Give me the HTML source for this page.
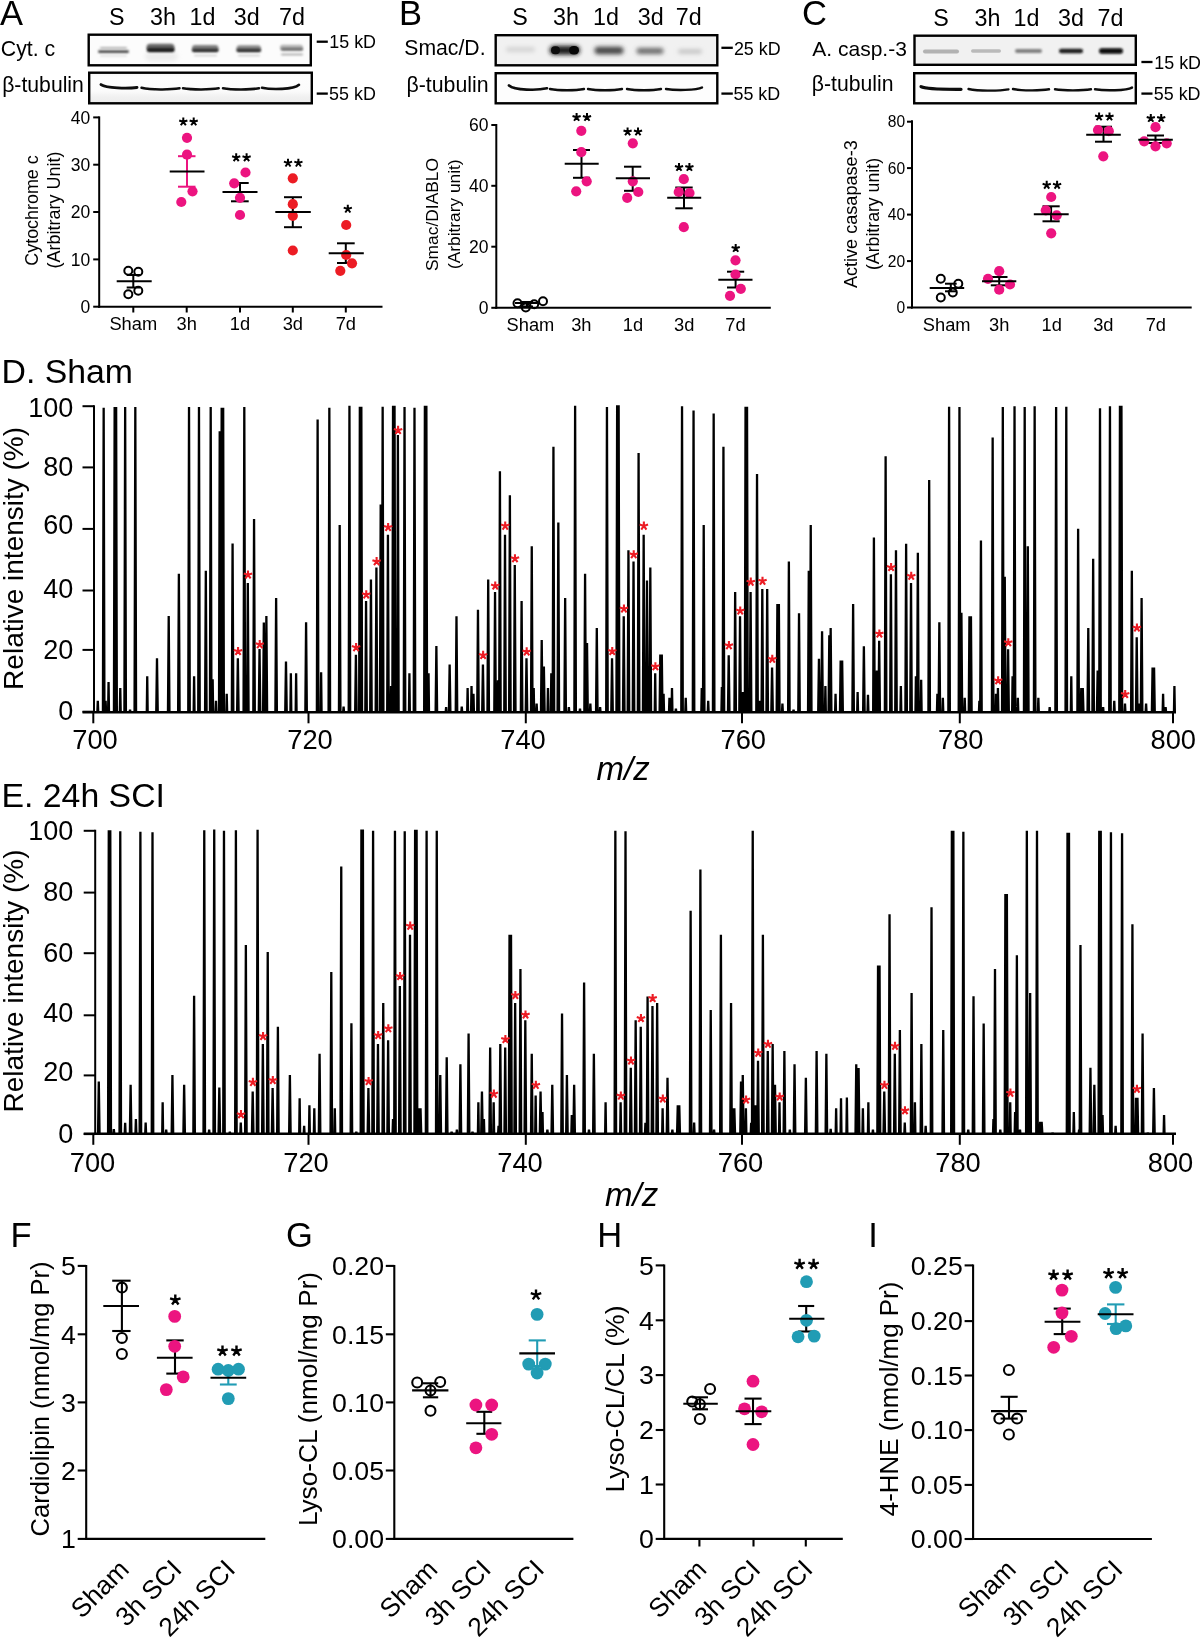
<!DOCTYPE html>
<html><head><meta charset="utf-8"><title>Figure</title><style>html,body{margin:0;padding:0;background:#fff;}svg{display:block;will-change:transform;}</style></head>
<body><svg width="1200" height="1638" viewBox="0 0 1200 1638" font-family='"Liberation Sans", sans-serif' fill="#000">
<rect x="0" y="0" width="1200" height="1638" fill="#fff"/>
<defs><filter id="bl3" filterUnits="userSpaceOnUse" x="0" y="0" width="1200" height="200"><feGaussianBlur stdDeviation="0.3"/></filter><filter id="bl5" filterUnits="userSpaceOnUse" x="0" y="0" width="1200" height="200"><feGaussianBlur stdDeviation="0.5"/></filter><filter id="bl8" filterUnits="userSpaceOnUse" x="0" y="0" width="1200" height="200"><feGaussianBlur stdDeviation="0.8"/></filter><filter id="bl10" filterUnits="userSpaceOnUse" x="0" y="0" width="1200" height="200"><feGaussianBlur stdDeviation="1.0"/></filter><filter id="bl12" filterUnits="userSpaceOnUse" x="0" y="0" width="1200" height="200"><feGaussianBlur stdDeviation="1.2"/></filter><filter id="bl15" filterUnits="userSpaceOnUse" x="0" y="0" width="1200" height="200"><feGaussianBlur stdDeviation="1.5"/></filter><filter id="bl20" filterUnits="userSpaceOnUse" x="0" y="0" width="1200" height="200"><feGaussianBlur stdDeviation="2.0"/></filter><filter id="bl25" filterUnits="userSpaceOnUse" x="0" y="0" width="1200" height="200"><feGaussianBlur stdDeviation="2.5"/></filter><filter id="bl30" filterUnits="userSpaceOnUse" x="0" y="0" width="1200" height="200"><feGaussianBlur stdDeviation="3.0"/></filter></defs>
<text x="0.00" y="24.80" font-size="34.5" text-anchor="start" >A</text>
<text x="398.90" y="24.80" font-size="34.5" text-anchor="start" >B</text>
<text x="802.00" y="24.80" font-size="34.5" text-anchor="start" >C</text>
<text x="116.80" y="25.30" font-size="23.3" text-anchor="middle" >S</text>
<text x="163.00" y="25.30" font-size="23.3" text-anchor="middle" >3h</text>
<text x="202.40" y="25.30" font-size="23.3" text-anchor="middle" >1d</text>
<text x="246.80" y="25.30" font-size="23.3" text-anchor="middle" >3d</text>
<text x="292.00" y="25.30" font-size="23.3" text-anchor="middle" >7d</text>
<rect x="88.70" y="34.70" width="222.10" height="30.60" fill="#fcfcfc"/>
<defs><linearGradient id="g1" x1="0" y1="0" x2="0" y2="1"><stop offset="0" stop-color="#f6f6f6"/><stop offset="0.15" stop-color="#fdfdfd"/><stop offset="0.6" stop-color="#fbfbfb"/><stop offset="0.8" stop-color="#f0f0f0"/><stop offset="1" stop-color="#ececec"/></linearGradient></defs>
<rect x="89.20" y="72.70" width="222.60" height="30.60" fill="url(#g1)"/>
<text x="0.80" y="55.50" font-size="21.3" text-anchor="start" >Cyt. c</text>
<text x="2.20" y="92.00" font-size="21.2" text-anchor="start" >β-tubulin</text>
<line x1="316.70" y1="41.70" x2="327.80" y2="41.70" stroke="#000" stroke-width="2.3" />
<text x="329.30" y="47.80" font-size="17.9" text-anchor="start" >15 kD</text>
<line x1="316.70" y1="93.60" x2="327.80" y2="93.60" stroke="#000" stroke-width="2.3" />
<text x="329.10" y="100.00" font-size="17.9" text-anchor="start" >55 kD</text>
<rect x="145.00" y="51.50" width="33.00" height="10.00" rx="5.00" fill="rgb(237,237,237)" filter="url(#bl20)"/>
<rect x="98.00" y="50.30" width="31.00" height="2.60" rx="1.30" fill="rgb(71,71,71)" filter="url(#bl8)"/>
<rect x="100.00" y="47.10" width="27.00" height="1.80" rx="0.90" fill="rgb(178,178,178)" filter="url(#bl8)"/>
<rect x="100.00" y="55.05" width="27.00" height="1.50" rx="0.75" fill="rgb(217,217,217)" filter="url(#bl8)"/>
<rect x="146.50" y="43.85" width="28.00" height="7.50" rx="3.75" fill="rgb(102,102,102)" filter="url(#bl12)"/>
<rect x="147.00" y="48.10" width="27.50" height="3.80" rx="1.90" fill="rgb(31,31,31)" filter="url(#bl8)"/>
<rect x="192.00" y="44.95" width="26.50" height="6.50" rx="3.25" fill="rgb(128,128,128)" filter="url(#bl10)"/>
<rect x="192.00" y="48.70" width="26.50" height="3.20" rx="1.60" fill="rgb(46,46,46)" filter="url(#bl8)"/>
<rect x="194.00" y="54.75" width="23.00" height="1.50" rx="0.75" fill="rgb(204,204,204)" filter="url(#bl8)"/>
<rect x="236.50" y="45.25" width="24.50" height="6.50" rx="3.25" fill="rgb(140,140,140)" filter="url(#bl10)"/>
<rect x="236.50" y="48.70" width="24.50" height="3.20" rx="1.60" fill="rgb(51,51,51)" filter="url(#bl8)"/>
<rect x="238.00" y="54.75" width="22.00" height="1.50" rx="0.75" fill="rgb(199,199,199)" filter="url(#bl8)"/>
<rect x="280.00" y="44.85" width="23.00" height="5.50" rx="2.75" fill="rgb(178,178,178)" filter="url(#bl10)"/>
<rect x="281.00" y="48.10" width="22.00" height="2.40" rx="1.20" fill="rgb(102,102,102)" filter="url(#bl8)"/>
<rect x="281.00" y="53.70" width="22.00" height="1.60" rx="0.80" fill="rgb(153,153,153)" filter="url(#bl8)"/>
<path d="M101.0,84.6 C106.4,88.52 128.0,88.52 137.0,87.5" stroke="rgb(13,13,13)" stroke-width="2.9" stroke-linecap="round" fill="none" filter="url(#bl5)"/>
<path d="M141.5,87.8 C151.0,89.85 170.0,89.85 179.5,88.3" stroke="rgb(13,13,13)" stroke-width="2.5" stroke-linecap="round" fill="none" filter="url(#bl5)"/>
<path d="M183.0,88.2 C191.9,89.78 209.8,89.78 218.7,88.3" stroke="rgb(13,13,13)" stroke-width="2.5" stroke-linecap="round" fill="none" filter="url(#bl5)"/>
<path d="M223.0,88.2 C232.0,89.80 250.0,89.80 259.0,88.2" stroke="rgb(13,13,13)" stroke-width="2.5" stroke-linecap="round" fill="none" filter="url(#bl5)"/>
<path d="M262.0,87.8 C271.2,89.77 293.4,89.77 299.0,84.8" stroke="rgb(13,13,13)" stroke-width="2.6" stroke-linecap="round" fill="none" filter="url(#bl5)"/>
<text x="520.00" y="25.30" font-size="23.3" text-anchor="middle" >S</text>
<text x="566.00" y="25.30" font-size="23.3" text-anchor="middle" >3h</text>
<text x="606.00" y="25.30" font-size="23.3" text-anchor="middle" >1d</text>
<text x="650.75" y="25.30" font-size="23.3" text-anchor="middle" >3d</text>
<text x="688.75" y="25.30" font-size="23.3" text-anchor="middle" >7d</text>
<rect x="495.70" y="35.20" width="221.60" height="30.10" fill="#f1f1f1"/>
<rect x="495.70" y="73.20" width="221.60" height="30.10" fill="#fdfdfd"/>
<text x="404.30" y="55.00" font-size="21.2" text-anchor="start" >Smac/D.</text>
<text x="406.50" y="91.50" font-size="21.3" text-anchor="start" >β-tubulin</text>
<line x1="721.40" y1="47.80" x2="732.80" y2="47.80" stroke="#000" stroke-width="2.3" />
<text x="733.90" y="54.50" font-size="17.9" text-anchor="start" >25 kD</text>
<line x1="721.40" y1="93.60" x2="732.80" y2="93.60" stroke="#000" stroke-width="2.3" />
<text x="733.50" y="100.00" font-size="17.9" text-anchor="start" >55 kD</text>
<rect x="506.00" y="47.00" width="29.00" height="5.00" rx="2.50" fill="rgb(212,212,212)" filter="url(#bl20)"/>
<rect x="549.50" y="45.80" width="30.50" height="9.00" rx="4.50" fill="rgb(31,31,31)" filter="url(#bl20)"/>
<rect x="551.00" y="46.30" width="9.00" height="8.00" rx="4.00" fill="rgb(13,13,13)" filter="url(#bl18)"/>
<rect x="569.00" y="46.05" width="10.00" height="8.50" rx="4.25" fill="rgb(8,8,8)" filter="url(#bl18)"/>
<rect x="594.50" y="46.75" width="29.00" height="7.50" rx="3.75" fill="rgb(71,71,71)" filter="url(#bl20)"/>
<rect x="636.50" y="48.00" width="27.00" height="6.00" rx="3.00" fill="rgb(107,107,107)" filter="url(#bl20)"/>
<rect x="678.00" y="49.50" width="24.00" height="4.00" rx="2.00" fill="rgb(191,191,191)" filter="url(#bl20)"/>
<path d="M509.0,85.5 C514.7,90.50 537.5,90.50 547.0,88.3" stroke="rgb(13,13,13)" stroke-width="2.7" stroke-linecap="round" fill="none" filter="url(#bl5)"/>
<path d="M550.0,89.0 C558.5,90.60 575.5,90.60 584.0,89.0" stroke="rgb(13,13,13)" stroke-width="2.4" stroke-linecap="round" fill="none" filter="url(#bl5)"/>
<path d="M588.0,89.0 C596.5,90.60 613.5,90.60 622.0,89.0" stroke="rgb(13,13,13)" stroke-width="2.4" stroke-linecap="round" fill="none" filter="url(#bl5)"/>
<path d="M627.0,89.0 C635.5,90.60 652.5,90.60 661.0,89.0" stroke="rgb(13,13,13)" stroke-width="2.4" stroke-linecap="round" fill="none" filter="url(#bl5)"/>
<path d="M666.0,89.0 C675.0,90.45 696.6,90.45 702.0,87.5" stroke="rgb(13,13,13)" stroke-width="2.4" stroke-linecap="round" fill="none" filter="url(#bl5)"/>
<text x="941.00" y="25.60" font-size="23.3" text-anchor="middle" >S</text>
<text x="987.40" y="25.60" font-size="23.3" text-anchor="middle" >3h</text>
<text x="1026.40" y="25.60" font-size="23.3" text-anchor="middle" >1d</text>
<text x="1071.00" y="25.60" font-size="23.3" text-anchor="middle" >3d</text>
<text x="1110.40" y="25.60" font-size="23.3" text-anchor="middle" >7d</text>
<rect x="914.50" y="35.70" width="221.30" height="29.10" fill="#f1f1f1"/>
<rect x="914.20" y="73.20" width="221.60" height="30.10" fill="#fdfdfd"/>
<text x="812.30" y="55.80" font-size="21" text-anchor="start" >A. casp.-3</text>
<text x="811.80" y="91.00" font-size="21.2" text-anchor="start" >β-tubulin</text>
<line x1="1141.40" y1="62.00" x2="1152.50" y2="62.00" stroke="#000" stroke-width="2.3" />
<text x="1154.30" y="68.50" font-size="17.9" text-anchor="start" >15 kD</text>
<line x1="1141.40" y1="93.60" x2="1152.50" y2="93.60" stroke="#000" stroke-width="2.3" />
<text x="1153.80" y="99.70" font-size="17.9" text-anchor="start" >55 kD</text>
<rect x="923.00" y="49.50" width="36.00" height="4.00" rx="2.00" fill="rgb(178,178,178)" filter="url(#bl13)"/>
<rect x="971.00" y="49.25" width="30.00" height="3.50" rx="1.75" fill="rgb(186,186,186)" filter="url(#bl13)"/>
<rect x="1015.00" y="49.00" width="27.00" height="4.00" rx="2.00" fill="rgb(128,128,128)" filter="url(#bl10)"/>
<rect x="1059.00" y="48.75" width="24.00" height="4.50" rx="2.25" fill="rgb(31,31,31)" filter="url(#bl8)"/>
<rect x="1099.00" y="48.25" width="24.00" height="5.50" rx="2.75" fill="rgb(8,8,8)" filter="url(#bl8)"/>
<path d="M921.0,86.6 C925.8,89.35 951.0,89.35 961.0,89.3" stroke="rgb(13,13,13)" stroke-width="3.2" stroke-linecap="round" fill="none" filter="url(#bl5)"/>
<path d="M968.5,89.0 C978.5,91.08 998.5,91.08 1008.5,89.3" stroke="rgb(13,13,13)" stroke-width="2.3" stroke-linecap="round" fill="none" filter="url(#bl5)"/>
<path d="M1013.0,89.0 C1022.0,90.82 1040.0,90.82 1049.0,89.3" stroke="rgb(13,13,13)" stroke-width="2.4" stroke-linecap="round" fill="none" filter="url(#bl5)"/>
<path d="M1055.0,89.3 C1064.0,90.77 1082.0,90.77 1091.0,89.3" stroke="rgb(13,13,13)" stroke-width="2.4" stroke-linecap="round" fill="none" filter="url(#bl5)"/>
<path d="M1095.0,89.3 C1104.2,90.78 1126.5,90.78 1132.0,87.6" stroke="rgb(13,13,13)" stroke-width="2.4" stroke-linecap="round" fill="none" filter="url(#bl5)"/>
<rect x="88.70" y="34.70" width="222.10" height="30.60" fill="none" stroke="#000" stroke-width="2.4"/>
<rect x="89.20" y="72.70" width="222.60" height="30.60" fill="none" stroke="#000" stroke-width="2.4"/>
<rect x="495.70" y="35.20" width="221.60" height="30.10" fill="none" stroke="#000" stroke-width="2.4"/>
<rect x="495.70" y="73.20" width="221.60" height="30.10" fill="none" stroke="#000" stroke-width="2.4"/>
<rect x="914.50" y="35.70" width="221.30" height="29.10" fill="none" stroke="#000" stroke-width="2.4"/>
<rect x="914.20" y="73.20" width="221.60" height="30.10" fill="none" stroke="#000" stroke-width="2.4"/>
<line x1="99.20" y1="116.40" x2="99.20" y2="307.70" stroke="#000" stroke-width="2" />
<line x1="93.20" y1="117.40" x2="99.20" y2="117.40" stroke="#000" stroke-width="2" />
<text x="90.30" y="123.53" font-size="17.5" text-anchor="end" >40</text>
<line x1="93.20" y1="164.70" x2="99.20" y2="164.70" stroke="#000" stroke-width="2" />
<text x="90.30" y="170.82" font-size="17.5" text-anchor="end" >30</text>
<line x1="93.20" y1="212.00" x2="99.20" y2="212.00" stroke="#000" stroke-width="2" />
<text x="90.30" y="218.12" font-size="17.5" text-anchor="end" >20</text>
<line x1="93.20" y1="259.40" x2="99.20" y2="259.40" stroke="#000" stroke-width="2" />
<text x="90.30" y="265.52" font-size="17.5" text-anchor="end" >10</text>
<line x1="93.20" y1="306.70" x2="99.20" y2="306.70" stroke="#000" stroke-width="2" />
<text x="90.30" y="312.82" font-size="17.5" text-anchor="end" >0</text>
<line x1="98.20" y1="306.70" x2="382.50" y2="306.70" stroke="#000" stroke-width="2" />
<line x1="133.30" y1="306.70" x2="133.30" y2="312.50" stroke="#000" stroke-width="2" />
<line x1="186.70" y1="306.70" x2="186.70" y2="312.50" stroke="#000" stroke-width="2" />
<line x1="240.00" y1="306.70" x2="240.00" y2="312.50" stroke="#000" stroke-width="2" />
<line x1="292.80" y1="306.70" x2="292.80" y2="312.50" stroke="#000" stroke-width="2" />
<line x1="345.80" y1="306.70" x2="345.80" y2="312.50" stroke="#000" stroke-width="2" />
<text x="133.30" y="330.00" font-size="18.3" text-anchor="middle" >Sham</text>
<text x="186.70" y="330.00" font-size="18.3" text-anchor="middle" >3h</text>
<text x="240.00" y="330.00" font-size="18.3" text-anchor="middle" >1d</text>
<text x="292.80" y="330.00" font-size="18.3" text-anchor="middle" >3d</text>
<text x="345.80" y="330.00" font-size="18.3" text-anchor="middle" >7d</text>
<text transform="translate(31.60,210.50) rotate(-90)" x="0" y="6.26" font-size="17.9" text-anchor="middle">Cytochrome c</text>
<text transform="translate(54.10,210.00) rotate(-90)" x="0" y="6.30" font-size="18" text-anchor="middle">(Arbitrary Unit)</text>
<line x1="133.30" y1="275.00" x2="133.30" y2="287.50" stroke="#000" stroke-width="2.0" />
<line x1="126.70" y1="275.00" x2="140.00" y2="275.00" stroke="#000" stroke-width="2.0" />
<line x1="126.70" y1="287.50" x2="140.00" y2="287.50" stroke="#000" stroke-width="2.0" />
<circle cx="128.30" cy="270.80" r="4.00" fill="none" stroke="#000" stroke-width="2.0"/>
<circle cx="138.30" cy="271.70" r="4.00" fill="none" stroke="#000" stroke-width="2.0"/>
<circle cx="128.30" cy="294.20" r="4.00" fill="none" stroke="#000" stroke-width="2.0"/>
<circle cx="138.30" cy="290.80" r="4.00" fill="none" stroke="#000" stroke-width="2.0"/>
<line x1="116.70" y1="281.30" x2="151.70" y2="281.30" stroke="#000" stroke-width="2.0" />
<line x1="187.00" y1="156.20" x2="187.00" y2="186.70" stroke="#EC1480" stroke-width="2.0" />
<line x1="178.00" y1="156.20" x2="195.50" y2="156.20" stroke="#EC1480" stroke-width="2.0" />
<line x1="178.00" y1="186.70" x2="195.50" y2="186.70" stroke="#EC1480" stroke-width="2.0" />
<circle cx="187.00" cy="137.80" r="5.10" fill="#EC1480"/>
<circle cx="187.00" cy="154.70" r="5.10" fill="#EC1480"/>
<circle cx="192.50" cy="191.30" r="5.10" fill="#EC1480"/>
<circle cx="181.30" cy="202.00" r="5.10" fill="#EC1480"/>
<line x1="169.70" y1="171.50" x2="204.50" y2="171.50" stroke="#000" stroke-width="2.0" />
<path d="M183.30,121.80L183.30,117.50M183.30,121.80L187.39,120.47M183.30,121.80L185.83,125.28M183.30,121.80L180.77,125.28M183.30,121.80L179.21,120.47M193.70,121.80L193.70,117.50M193.70,121.80L197.79,120.47M193.70,121.80L196.23,125.28M193.70,121.80L191.17,125.28M193.70,121.80L189.61,120.47" stroke="#000" stroke-width="2.0" fill="none"/>
<line x1="240.00" y1="183.00" x2="240.00" y2="201.30" stroke="#000" stroke-width="2.0" />
<line x1="231.00" y1="183.00" x2="248.70" y2="183.00" stroke="#000" stroke-width="2.0" />
<line x1="231.00" y1="201.30" x2="248.70" y2="201.30" stroke="#000" stroke-width="2.0" />
<circle cx="245.50" cy="172.50" r="5.10" fill="#EC1480"/>
<circle cx="234.20" cy="183.30" r="5.10" fill="#EC1480"/>
<circle cx="240.00" cy="197.80" r="5.10" fill="#EC1480"/>
<circle cx="240.00" cy="215.00" r="5.10" fill="#EC1480"/>
<line x1="222.50" y1="192.00" x2="257.50" y2="192.00" stroke="#000" stroke-width="2.0" />
<path d="M236.20,157.60L236.20,153.30M236.20,157.60L240.29,156.27M236.20,157.60L238.73,161.08M236.20,157.60L233.67,161.08M236.20,157.60L232.11,156.27M246.60,157.60L246.60,153.30M246.60,157.60L250.69,156.27M246.60,157.60L249.13,161.08M246.60,157.60L244.07,161.08M246.60,157.60L242.51,156.27" stroke="#000" stroke-width="2.0" fill="none"/>
<line x1="292.80" y1="197.20" x2="292.80" y2="227.20" stroke="#000" stroke-width="2.0" />
<line x1="284.00" y1="197.20" x2="302.00" y2="197.20" stroke="#000" stroke-width="2.0" />
<line x1="284.00" y1="227.20" x2="302.00" y2="227.20" stroke="#000" stroke-width="2.0" />
<circle cx="292.80" cy="178.30" r="5.10" fill="#EC1C24"/>
<circle cx="292.80" cy="204.20" r="5.10" fill="#EC1C24"/>
<circle cx="292.80" cy="215.80" r="5.10" fill="#EC1C24"/>
<circle cx="292.80" cy="250.50" r="5.10" fill="#EC1C24"/>
<line x1="275.30" y1="212.00" x2="310.80" y2="212.00" stroke="#000" stroke-width="2.0" />
<path d="M288.00,163.00L288.00,158.70M288.00,163.00L292.09,161.67M288.00,163.00L290.53,166.48M288.00,163.00L285.47,166.48M288.00,163.00L283.91,161.67M298.40,163.00L298.40,158.70M298.40,163.00L302.49,161.67M298.40,163.00L300.93,166.48M298.40,163.00L295.87,166.48M298.40,163.00L294.31,161.67" stroke="#000" stroke-width="2.0" fill="none"/>
<line x1="345.80" y1="243.30" x2="345.80" y2="263.00" stroke="#000" stroke-width="2.0" />
<line x1="337.00" y1="243.30" x2="354.70" y2="243.30" stroke="#000" stroke-width="2.0" />
<line x1="337.00" y1="263.00" x2="354.70" y2="263.00" stroke="#000" stroke-width="2.0" />
<circle cx="346.20" cy="225.00" r="5.10" fill="#EC1C24"/>
<circle cx="346.20" cy="255.00" r="5.10" fill="#EC1C24"/>
<circle cx="352.00" cy="263.30" r="5.10" fill="#EC1C24"/>
<circle cx="340.30" cy="270.80" r="5.10" fill="#EC1C24"/>
<line x1="328.70" y1="253.30" x2="363.80" y2="253.30" stroke="#000" stroke-width="2.0" />
<path d="M347.80,209.00L347.80,204.70M347.80,209.00L351.89,207.67M347.80,209.00L350.33,212.48M347.80,209.00L345.27,212.48M347.80,209.00L343.71,207.67" stroke="#000" stroke-width="2.0" fill="none"/>
<line x1="496.30" y1="124.00" x2="496.30" y2="308.80" stroke="#000" stroke-width="2" />
<line x1="491.30" y1="125.00" x2="496.30" y2="125.00" stroke="#000" stroke-width="2" />
<text x="488.50" y="131.12" font-size="17.5" text-anchor="end" >60</text>
<line x1="491.30" y1="185.80" x2="496.30" y2="185.80" stroke="#000" stroke-width="2" />
<text x="488.50" y="191.93" font-size="17.5" text-anchor="end" >40</text>
<line x1="491.30" y1="246.70" x2="496.30" y2="246.70" stroke="#000" stroke-width="2" />
<text x="488.50" y="252.82" font-size="17.5" text-anchor="end" >20</text>
<line x1="491.30" y1="307.80" x2="496.30" y2="307.80" stroke="#000" stroke-width="2" />
<text x="488.50" y="313.93" font-size="17.5" text-anchor="end" >0</text>
<line x1="495.30" y1="307.80" x2="770.80" y2="307.80" stroke="#000" stroke-width="2" />
<text x="530.40" y="330.50" font-size="18.3" text-anchor="middle" >Sham</text>
<text x="581.30" y="330.50" font-size="18.3" text-anchor="middle" >3h</text>
<text x="633.00" y="330.50" font-size="18.3" text-anchor="middle" >1d</text>
<text x="684.20" y="330.50" font-size="18.3" text-anchor="middle" >3d</text>
<text x="735.50" y="330.50" font-size="18.3" text-anchor="middle" >7d</text>
<text transform="translate(431.70,214.50) rotate(-90)" x="0" y="6.09" font-size="17.4" text-anchor="middle">Smac/DIABLO</text>
<text transform="translate(454.00,214.20) rotate(-90)" x="0" y="6.05" font-size="17.3" text-anchor="middle">(Arbitrary unit)</text>
<line x1="527.00" y1="302.00" x2="527.00" y2="306.50" stroke="#000" stroke-width="2.0" />
<line x1="522.00" y1="302.00" x2="533.00" y2="302.00" stroke="#000" stroke-width="2.0" />
<line x1="522.00" y1="306.50" x2="533.00" y2="306.50" stroke="#000" stroke-width="2.0" />
<circle cx="517.50" cy="303.30" r="4.00" fill="none" stroke="#000" stroke-width="2.0"/>
<circle cx="525.80" cy="307.50" r="4.00" fill="none" stroke="#000" stroke-width="2.0"/>
<circle cx="534.20" cy="304.20" r="4.00" fill="none" stroke="#000" stroke-width="2.0"/>
<circle cx="543.00" cy="301.30" r="4.00" fill="none" stroke="#000" stroke-width="2.0"/>
<line x1="515.00" y1="303.00" x2="537.50" y2="303.00" stroke="#000" stroke-width="2.0" />
<line x1="581.50" y1="150.00" x2="581.50" y2="177.80" stroke="#000" stroke-width="2.0" />
<line x1="573.00" y1="150.00" x2="590.00" y2="150.00" stroke="#000" stroke-width="2.0" />
<line x1="573.00" y1="177.80" x2="590.00" y2="177.80" stroke="#000" stroke-width="2.0" />
<circle cx="581.30" cy="130.80" r="5.10" fill="#EC1480"/>
<circle cx="581.30" cy="152.20" r="5.10" fill="#EC1480"/>
<circle cx="586.70" cy="181.30" r="5.10" fill="#EC1480"/>
<circle cx="576.20" cy="191.30" r="5.10" fill="#EC1480"/>
<line x1="564.70" y1="163.70" x2="598.70" y2="163.70" stroke="#000" stroke-width="2.0" />
<path d="M576.60,117.30L576.60,113.00M576.60,117.30L580.69,115.97M576.60,117.30L579.13,120.78M576.60,117.30L574.07,120.78M576.60,117.30L572.51,115.97M587.00,117.30L587.00,113.00M587.00,117.30L591.09,115.97M587.00,117.30L589.53,120.78M587.00,117.30L584.47,120.78M587.00,117.30L582.91,115.97" stroke="#000" stroke-width="2.0" fill="none"/>
<line x1="632.70" y1="166.70" x2="632.70" y2="190.80" stroke="#000" stroke-width="2.0" />
<line x1="624.00" y1="166.70" x2="641.30" y2="166.70" stroke="#000" stroke-width="2.0" />
<line x1="624.00" y1="190.80" x2="641.30" y2="190.80" stroke="#000" stroke-width="2.0" />
<circle cx="632.80" cy="143.30" r="5.10" fill="#EC1480"/>
<circle cx="632.80" cy="181.30" r="5.10" fill="#EC1480"/>
<circle cx="638.30" cy="192.00" r="5.10" fill="#EC1480"/>
<circle cx="627.20" cy="197.80" r="5.10" fill="#EC1480"/>
<line x1="615.80" y1="178.30" x2="650.00" y2="178.30" stroke="#000" stroke-width="2.0" />
<path d="M627.60,131.80L627.60,127.50M627.60,131.80L631.69,130.47M627.60,131.80L630.13,135.28M627.60,131.80L625.07,135.28M627.60,131.80L623.51,130.47M638.00,131.80L638.00,127.50M638.00,131.80L642.09,130.47M638.00,131.80L640.53,135.28M638.00,131.80L635.47,135.28M638.00,131.80L633.91,130.47" stroke="#000" stroke-width="2.0" fill="none"/>
<line x1="684.00" y1="187.50" x2="684.00" y2="208.30" stroke="#000" stroke-width="2.0" />
<line x1="675.30" y1="187.50" x2="692.70" y2="187.50" stroke="#000" stroke-width="2.0" />
<line x1="675.30" y1="208.30" x2="692.70" y2="208.30" stroke="#000" stroke-width="2.0" />
<circle cx="683.80" cy="179.20" r="5.10" fill="#EC1480"/>
<circle cx="678.70" cy="192.00" r="5.10" fill="#EC1480"/>
<circle cx="689.50" cy="193.00" r="5.10" fill="#EC1480"/>
<circle cx="683.80" cy="227.20" r="5.10" fill="#EC1480"/>
<line x1="667.20" y1="197.80" x2="701.20" y2="197.80" stroke="#000" stroke-width="2.0" />
<path d="M679.00,167.30L679.00,163.00M679.00,167.30L683.09,165.97M679.00,167.30L681.53,170.78M679.00,167.30L676.47,170.78M679.00,167.30L674.91,165.97M689.40,167.30L689.40,163.00M689.40,167.30L693.49,165.97M689.40,167.30L691.93,170.78M689.40,167.30L686.87,170.78M689.40,167.30L685.31,165.97" stroke="#000" stroke-width="2.0" fill="none"/>
<line x1="735.60" y1="271.70" x2="735.60" y2="287.50" stroke="#000" stroke-width="2.0" />
<line x1="727.00" y1="271.70" x2="744.20" y2="271.70" stroke="#000" stroke-width="2.0" />
<line x1="727.00" y1="287.50" x2="744.20" y2="287.50" stroke="#000" stroke-width="2.0" />
<circle cx="735.50" cy="260.30" r="5.10" fill="#EC1480"/>
<circle cx="735.50" cy="274.50" r="5.10" fill="#EC1480"/>
<circle cx="740.80" cy="288.80" r="5.10" fill="#EC1480"/>
<circle cx="730.00" cy="295.80" r="5.10" fill="#EC1480"/>
<line x1="718.30" y1="279.70" x2="752.50" y2="279.70" stroke="#000" stroke-width="2.0" />
<path d="M735.70,248.30L735.70,244.00M735.70,248.30L739.79,246.97M735.70,248.30L738.23,251.78M735.70,248.30L733.17,251.78M735.70,248.30L731.61,246.97" stroke="#000" stroke-width="2.0" fill="none"/>
<line x1="912.00" y1="120.30" x2="912.00" y2="308.50" stroke="#000" stroke-width="2" />
<line x1="907.00" y1="121.70" x2="912.00" y2="121.70" stroke="#000" stroke-width="2" />
<text x="905.20" y="127.16" font-size="15.6" text-anchor="end" >80</text>
<line x1="907.00" y1="168.10" x2="912.00" y2="168.10" stroke="#000" stroke-width="2" />
<text x="905.20" y="173.56" font-size="15.6" text-anchor="end" >60</text>
<line x1="907.00" y1="214.60" x2="912.00" y2="214.60" stroke="#000" stroke-width="2" />
<text x="905.20" y="220.06" font-size="15.6" text-anchor="end" >40</text>
<line x1="907.00" y1="261.10" x2="912.00" y2="261.10" stroke="#000" stroke-width="2" />
<text x="905.20" y="266.56" font-size="15.6" text-anchor="end" >20</text>
<line x1="907.00" y1="307.50" x2="912.00" y2="307.50" stroke="#000" stroke-width="2" />
<text x="905.20" y="312.96" font-size="15.6" text-anchor="end" >0</text>
<line x1="911.00" y1="307.50" x2="1191.70" y2="307.50" stroke="#000" stroke-width="2" />
<text x="946.70" y="330.50" font-size="18.3" text-anchor="middle" >Sham</text>
<text x="999.20" y="330.50" font-size="18.3" text-anchor="middle" >3h</text>
<text x="1051.70" y="330.50" font-size="18.3" text-anchor="middle" >1d</text>
<text x="1103.30" y="330.50" font-size="18.3" text-anchor="middle" >3d</text>
<text x="1155.80" y="330.50" font-size="18.3" text-anchor="middle" >7d</text>
<text transform="translate(850.80,214.20) rotate(-90)" x="0" y="6.33" font-size="18.1" text-anchor="middle">Active casapase-3</text>
<text transform="translate(872.60,214.00) rotate(-90)" x="0" y="6.19" font-size="17.7" text-anchor="middle">(Arbitrary unit)</text>
<line x1="950.80" y1="283.70" x2="950.80" y2="291.30" stroke="#000" stroke-width="2.0" />
<line x1="945.00" y1="283.70" x2="956.70" y2="283.70" stroke="#000" stroke-width="2.0" />
<line x1="945.00" y1="291.30" x2="956.70" y2="291.30" stroke="#000" stroke-width="2.0" />
<circle cx="940.80" cy="278.80" r="4.00" fill="none" stroke="#000" stroke-width="2.0"/>
<circle cx="958.30" cy="283.70" r="4.00" fill="none" stroke="#000" stroke-width="2.0"/>
<circle cx="952.80" cy="292.50" r="4.00" fill="none" stroke="#000" stroke-width="2.0"/>
<circle cx="940.80" cy="297.50" r="4.00" fill="none" stroke="#000" stroke-width="2.0"/>
<line x1="929.70" y1="288.00" x2="964.20" y2="288.00" stroke="#000" stroke-width="2.0" />
<line x1="999.20" y1="277.00" x2="999.20" y2="285.30" stroke="#000" stroke-width="2.0" />
<line x1="990.80" y1="277.00" x2="1007.50" y2="277.00" stroke="#000" stroke-width="2.0" />
<line x1="990.80" y1="285.30" x2="1007.50" y2="285.30" stroke="#000" stroke-width="2.0" />
<circle cx="999.20" cy="271.20" r="5.10" fill="#EC1480"/>
<circle cx="988.00" cy="278.80" r="5.10" fill="#EC1480"/>
<circle cx="1010.00" cy="284.50" r="5.10" fill="#EC1480"/>
<circle cx="999.20" cy="289.70" r="5.10" fill="#EC1480"/>
<line x1="982.00" y1="281.20" x2="1016.30" y2="281.20" stroke="#000" stroke-width="2.0" />
<line x1="1051.10" y1="206.30" x2="1051.10" y2="221.30" stroke="#000" stroke-width="2.0" />
<line x1="1042.50" y1="206.30" x2="1059.70" y2="206.30" stroke="#000" stroke-width="2.0" />
<line x1="1042.50" y1="221.30" x2="1059.70" y2="221.30" stroke="#000" stroke-width="2.0" />
<circle cx="1051.20" cy="197.00" r="5.10" fill="#EC1480"/>
<circle cx="1045.80" cy="210.30" r="5.10" fill="#EC1480"/>
<circle cx="1056.70" cy="215.30" r="5.10" fill="#EC1480"/>
<circle cx="1051.20" cy="233.30" r="5.10" fill="#EC1480"/>
<line x1="1033.80" y1="214.20" x2="1068.70" y2="214.20" stroke="#000" stroke-width="2.0" />
<path d="M1046.70,185.10L1046.70,180.80M1046.70,185.10L1050.79,183.77M1046.70,185.10L1049.23,188.58M1046.70,185.10L1044.17,188.58M1046.70,185.10L1042.61,183.77M1057.10,185.10L1057.10,180.80M1057.10,185.10L1061.19,183.77M1057.10,185.10L1059.63,188.58M1057.10,185.10L1054.57,188.58M1057.10,185.10L1053.01,183.77" stroke="#000" stroke-width="2.0" fill="none"/>
<line x1="1103.50" y1="126.70" x2="1103.50" y2="141.70" stroke="#000" stroke-width="2.0" />
<line x1="1095.00" y1="126.70" x2="1112.00" y2="126.70" stroke="#000" stroke-width="2.0" />
<line x1="1095.00" y1="141.70" x2="1112.00" y2="141.70" stroke="#000" stroke-width="2.0" />
<circle cx="1098.00" cy="130.00" r="5.10" fill="#EC1480"/>
<circle cx="1108.80" cy="131.20" r="5.10" fill="#EC1480"/>
<circle cx="1103.30" cy="156.30" r="5.10" fill="#EC1480"/>
<line x1="1086.20" y1="134.70" x2="1120.80" y2="134.70" stroke="#000" stroke-width="2.0" />
<path d="M1099.10,116.80L1099.10,112.50M1099.10,116.80L1103.19,115.47M1099.10,116.80L1101.63,120.28M1099.10,116.80L1096.57,120.28M1099.10,116.80L1095.01,115.47M1109.50,116.80L1109.50,112.50M1109.50,116.80L1113.59,115.47M1109.50,116.80L1112.03,120.28M1109.50,116.80L1106.97,120.28M1109.50,116.80L1105.41,115.47" stroke="#000" stroke-width="2.0" fill="none"/>
<line x1="1155.50" y1="135.50" x2="1155.50" y2="143.00" stroke="#000" stroke-width="2.0" />
<line x1="1147.00" y1="135.50" x2="1164.00" y2="135.50" stroke="#000" stroke-width="2.0" />
<line x1="1147.00" y1="143.00" x2="1164.00" y2="143.00" stroke="#000" stroke-width="2.0" />
<circle cx="1155.50" cy="127.20" r="5.10" fill="#EC1480"/>
<circle cx="1144.20" cy="141.30" r="5.10" fill="#EC1480"/>
<circle cx="1155.50" cy="146.30" r="5.10" fill="#EC1480"/>
<circle cx="1166.70" cy="143.30" r="5.10" fill="#EC1480"/>
<line x1="1138.30" y1="139.70" x2="1172.80" y2="139.70" stroke="#000" stroke-width="2.0" />
<path d="M1150.80,118.30L1150.80,114.00M1150.80,118.30L1154.89,116.97M1150.80,118.30L1153.33,121.78M1150.80,118.30L1148.27,121.78M1150.80,118.30L1146.71,116.97M1161.20,118.30L1161.20,114.00M1161.20,118.30L1165.29,116.97M1161.20,118.30L1163.73,121.78M1161.20,118.30L1158.67,121.78M1161.20,118.30L1157.11,116.97" stroke="#000" stroke-width="2.0" fill="none"/>
<line x1="94.00" y1="405.20" x2="94.00" y2="712.30" stroke="#000" stroke-width="2" />
<line x1="82.50" y1="406.20" x2="94.00" y2="406.20" stroke="#000" stroke-width="2" />
<text x="73.40" y="416.55" font-size="27" text-anchor="end" >100</text>
<line x1="82.50" y1="467.40" x2="94.00" y2="467.40" stroke="#000" stroke-width="2" />
<text x="73.40" y="476.45" font-size="27" text-anchor="end" >80</text>
<line x1="82.50" y1="528.90" x2="94.00" y2="528.90" stroke="#000" stroke-width="2" />
<text x="73.40" y="534.05" font-size="27" text-anchor="end" >60</text>
<line x1="82.50" y1="590.50" x2="94.00" y2="590.50" stroke="#000" stroke-width="2" />
<text x="73.40" y="598.15" font-size="27" text-anchor="end" >40</text>
<line x1="82.50" y1="649.90" x2="94.00" y2="649.90" stroke="#000" stroke-width="2" />
<text x="73.40" y="658.75" font-size="27" text-anchor="end" >20</text>
<line x1="82.50" y1="711.70" x2="94.00" y2="711.70" stroke="#000" stroke-width="2" />
<text x="73.40" y="719.75" font-size="27" text-anchor="end" >0</text>
<line x1="82.50" y1="712.30" x2="1176.00" y2="712.30" stroke="#000" stroke-width="2.6" />
<line x1="93.30" y1="712.30" x2="93.30" y2="723.30" stroke="#000" stroke-width="2" />
<text x="95.00" y="749.30" font-size="27.3" text-anchor="middle" >700</text>
<line x1="308.50" y1="712.30" x2="308.50" y2="723.30" stroke="#000" stroke-width="2" />
<text x="310.00" y="749.30" font-size="27.3" text-anchor="middle" >720</text>
<line x1="525.80" y1="712.30" x2="525.80" y2="723.30" stroke="#000" stroke-width="2" />
<text x="523.00" y="749.30" font-size="27.3" text-anchor="middle" >740</text>
<line x1="742.00" y1="712.30" x2="742.00" y2="723.30" stroke="#000" stroke-width="2" />
<text x="743.25" y="749.30" font-size="27.3" text-anchor="middle" >760</text>
<line x1="959.80" y1="712.30" x2="959.80" y2="723.30" stroke="#000" stroke-width="2" />
<text x="960.75" y="749.30" font-size="27.3" text-anchor="middle" >780</text>
<line x1="1173.00" y1="712.30" x2="1173.00" y2="723.30" stroke="#000" stroke-width="2" />
<text x="1173.25" y="749.30" font-size="27.3" text-anchor="middle" >800</text>
<text x="596.5" y="780" font-size="33" font-style="italic">m/z</text>
<text x="1.50" y="382.70" font-size="33.8" text-anchor="start" >D. Sham</text>
<text transform="translate(12.90,558.40) rotate(-90)" x="0" y="9.80" font-size="28" text-anchor="middle">Relative intensity (%)</text>
<path d="M96.66,700.66L98.96,700.66L99.41,712.30L96.21,712.30ZM102.52,407.70L104.82,407.70L105.57,712.30L101.77,712.30ZM104.47,700.66L106.78,700.66L107.22,712.30L104.03,712.30ZM107.40,682.11L109.70,682.11L110.15,712.30L106.95,712.30ZM113.49,407.11L117.29,407.11L117.99,712.30L112.79,712.30ZM119.12,687.97L121.42,687.97L121.87,712.30L118.67,712.30ZM124.01,407.11L126.31,407.11L127.06,712.30L123.26,712.30ZM128.89,709.45L131.19,709.45L131.64,712.30L128.44,712.30ZM134.16,407.11L136.46,407.11L137.21,712.30L133.41,712.30ZM146.08,676.25L148.38,676.25L148.83,712.30L145.63,712.30ZM155.84,658.28L158.14,658.28L158.89,712.30L155.09,712.30ZM167.56,616.09L169.86,616.09L170.61,712.30L166.81,712.30ZM177.72,573.71L180.02,573.71L180.77,712.30L176.97,712.30ZM187.87,407.11L190.17,407.11L190.92,712.30L187.12,712.30ZM192.95,676.25L195.25,676.25L195.70,712.30L192.50,712.30ZM197.83,407.11L200.13,407.11L200.88,712.30L197.08,712.30ZM204.67,570.78L206.97,570.78L207.72,712.30L203.92,712.30ZM209.55,407.11L211.85,407.11L212.60,712.30L208.80,712.30ZM211.51,679.18L213.81,679.18L214.26,712.30L211.06,712.30ZM214.83,700.66L217.13,700.66L217.58,712.30L214.38,712.30ZM218.57,431.13L222.37,431.13L223.07,712.30L217.87,712.30ZM220.52,407.70L224.32,407.70L225.02,712.30L219.82,712.30ZM225.57,693.83L227.87,693.83L228.32,712.30L225.12,712.30ZM231.43,543.44L233.73,543.44L234.48,712.30L230.68,712.30ZM236.70,658.28L239.00,658.28L239.75,712.30L235.95,712.30ZM243.15,407.11L245.45,407.11L246.20,712.30L242.40,712.30ZM246.66,582.89L248.96,582.89L249.71,712.30L245.91,712.30ZM252.91,519.02L255.21,519.02L255.96,712.30L252.16,712.30ZM258.38,648.91L260.68,648.91L261.43,712.30L257.63,712.30ZM262.68,622.54L264.98,622.54L265.73,712.30L261.93,712.30ZM265.22,616.09L267.52,616.09L268.27,712.30L264.47,712.30ZM274.98,598.12L277.28,598.12L278.03,712.30L274.23,712.30ZM284.83,661.60L287.13,661.60L287.88,712.30L284.08,712.30ZM289.71,673.32L292.01,673.32L292.46,712.30L289.26,712.30ZM294.98,673.32L297.28,673.32L297.73,712.30L294.53,712.30ZM304.94,622.15L307.24,622.15L307.99,712.30L304.19,712.30ZM316.47,419.41L318.77,419.41L319.52,712.30L315.72,712.30ZM319.98,672.34L322.28,672.34L322.73,712.30L319.53,712.30ZM328.19,407.70L330.49,407.70L331.24,712.30L327.44,712.30ZM338.54,524.88L340.84,524.88L341.59,712.30L337.79,712.30ZM342.44,706.52L344.74,706.52L345.19,712.30L341.99,712.30ZM348.30,405.74L350.60,405.74L351.35,712.30L347.55,712.30ZM354.75,654.77L357.05,654.77L357.80,712.30L354.00,712.30ZM358.69,406.72L362.49,406.72L363.19,712.30L357.99,712.30ZM364.90,601.05L367.20,601.05L367.95,712.30L364.15,712.30ZM369.79,579.57L372.09,579.57L372.84,712.30L369.04,712.30ZM375.26,567.46L377.56,567.46L378.31,712.30L374.51,712.30ZM379.55,504.38L381.85,504.38L382.60,712.30L378.80,712.30ZM381.51,406.72L383.81,406.72L384.56,712.30L380.76,712.30ZM386.78,534.65L389.08,534.65L389.83,712.30L386.03,712.30ZM389.90,686.02L392.20,686.02L392.65,712.30L389.45,712.30ZM391.89,405.74L395.69,405.74L396.39,712.30L391.19,712.30ZM396.74,435.04L399.04,435.04L399.79,712.30L395.99,712.30ZM403.38,407.11L405.68,407.11L406.43,712.30L402.63,712.30ZM408.26,673.32L410.56,673.32L411.01,712.30L407.81,712.30ZM413.34,407.70L415.64,407.70L416.39,712.30L412.59,712.30ZM423.73,405.74L427.52,405.74L428.23,712.30L423.02,712.30ZM427.40,673.32L429.70,673.32L430.15,712.30L426.95,712.30ZM435.22,645.98L437.52,645.98L438.27,712.30L434.47,712.30ZM444.98,707.11L447.28,707.11L447.73,712.30L444.53,712.30ZM448.50,664.53L450.80,664.53L451.55,712.30L447.75,712.30ZM455.33,616.29L457.63,616.29L458.38,712.30L454.58,712.30ZM460.61,706.52L462.91,706.52L463.36,712.30L460.16,712.30ZM466.47,687.97L468.77,687.97L469.22,712.30L466.02,712.30ZM470.37,686.02L472.67,686.02L473.12,712.30L469.92,712.30ZM472.33,693.83L474.63,693.83L475.08,712.30L471.88,712.30ZM476.82,609.84L479.12,609.84L479.87,712.30L476.07,712.30ZM481.78,664.53L484.08,664.53L484.83,712.30L481.03,712.30ZM487.05,579.57L489.35,579.57L490.10,712.30L486.30,712.30ZM493.89,591.88L496.19,591.88L496.94,712.30L493.14,712.30ZM496.82,680.16L499.12,680.16L499.57,712.30L496.37,712.30ZM498.77,471.17L501.07,471.17L501.82,712.30L498.02,712.30ZM503.85,534.65L506.15,534.65L506.90,712.30L503.10,712.30ZM508.73,495.20L511.03,495.20L511.78,712.30L507.98,712.30ZM513.62,564.92L515.92,564.92L516.67,712.30L512.87,712.30ZM520.45,601.05L522.75,601.05L523.50,712.30L519.70,712.30ZM525.33,658.28L527.63,658.28L528.38,712.30L524.58,712.30ZM530.61,546.37L532.91,546.37L533.66,712.30L529.86,712.30ZM532.56,687.97L534.86,687.97L535.31,712.30L532.11,712.30ZM535.49,703.59L537.79,703.59L538.24,712.30L535.04,712.30ZM540.57,640.12L542.87,640.12L543.62,712.30L539.82,712.30ZM542.72,666.48L545.02,666.48L545.77,712.30L541.97,712.30ZM546.82,687.97L549.12,687.97L549.57,712.30L546.37,712.30ZM550.14,673.32L552.44,673.32L552.89,712.30L549.69,712.30ZM552.29,446.76L554.59,446.76L555.34,712.30L551.54,712.30ZM557.17,522.54L559.47,522.54L560.22,712.30L556.42,712.30ZM564.01,598.12L566.31,598.12L567.06,712.30L563.26,712.30ZM567.72,707.11L570.02,707.11L570.47,712.30L567.27,712.30ZM573.97,405.74L576.27,405.74L577.02,712.30L573.22,712.30ZM578.85,708.48L581.15,708.48L581.60,712.30L578.40,712.30ZM583.93,573.71L586.23,573.71L586.98,712.30L583.18,712.30ZM585.88,643.05L588.18,643.05L588.93,712.30L585.13,712.30ZM589.20,703.59L591.50,703.59L591.95,712.30L588.75,712.30ZM595.65,628.01L597.95,628.01L598.70,712.30L594.90,712.30ZM598.97,707.11L601.27,707.11L601.72,712.30L598.52,712.30ZM605.80,407.11L608.10,407.11L608.85,712.30L605.05,712.30ZM610.88,658.28L613.18,658.28L613.93,712.30L610.13,712.30ZM615.99,405.16L619.79,405.16L620.49,712.30L615.29,712.30ZM622.60,616.29L624.90,616.29L625.65,712.30L621.85,712.30ZM627.29,550.27L629.59,550.27L630.34,712.30L626.54,712.30ZM632.37,561.60L634.67,561.60L635.42,712.30L631.62,712.30ZM637.44,453.01L639.74,453.01L640.49,712.30L636.69,712.30ZM642.52,534.65L644.82,534.65L645.57,712.30L641.77,712.30ZM645.84,580.55L648.14,580.55L648.89,712.30L645.09,712.30ZM649.16,567.46L651.46,567.46L652.21,712.30L648.41,712.30ZM654.05,673.32L656.35,673.32L656.80,712.30L653.60,712.30ZM659.15,654.38L662.95,654.38L663.65,712.30L658.45,712.30ZM662.44,693.83L664.74,693.83L665.19,712.30L661.99,712.30ZM668.30,697.73L670.60,697.73L671.05,712.30L667.85,712.30ZM670.84,687.97L673.14,687.97L673.59,712.30L670.39,712.30ZM674.75,708.48L677.05,708.48L677.50,712.30L674.30,712.30ZM680.88,406.33L683.18,406.33L683.93,712.30L680.13,712.30ZM684.59,697.73L686.89,697.73L687.34,712.30L684.14,712.30ZM692.40,410.62L694.70,410.62L695.45,712.30L691.65,712.30ZM700.61,687.97L702.91,687.97L703.36,712.30L700.16,712.30ZM702.56,524.88L704.86,524.88L705.61,712.30L701.81,712.30ZM707.05,700.66L709.35,700.66L709.80,712.30L706.60,712.30ZM712.52,413.55L714.82,413.55L715.57,712.30L711.77,712.30ZM720.73,686.99L723.02,686.99L723.48,712.30L720.27,712.30ZM722.29,446.76L724.59,446.76L725.34,712.30L721.54,712.30ZM727.56,655.35L729.86,655.35L730.61,712.30L726.81,712.30ZM734.01,591.88L736.31,591.88L737.06,712.30L733.26,712.30ZM738.89,616.29L741.19,616.29L741.94,712.30L738.14,712.30ZM741.82,691.88L744.12,691.88L744.57,712.30L741.37,712.30ZM744.39,406.72L748.19,406.72L748.89,712.30L743.69,712.30ZM749.44,591.88L751.74,591.88L752.49,712.30L748.69,712.30ZM755.88,474.10L758.18,474.10L758.93,712.30L755.13,712.30ZM758.81,700.66L761.11,700.66L761.56,712.30L758.36,712.30ZM761.15,588.95L763.45,588.95L764.20,712.30L760.40,712.30ZM766.04,588.95L768.34,588.95L769.09,712.30L765.29,712.30ZM770.92,667.46L773.22,667.46L773.97,712.30L770.17,712.30ZM776.23,603.98L780.02,603.98L780.73,712.30L775.52,712.30ZM781.27,703.59L783.57,703.59L784.02,712.30L780.82,712.30ZM787.72,561.60L790.02,561.60L790.77,712.30L786.97,712.30ZM792.40,709.45L794.70,709.45L795.15,712.30L791.95,712.30ZM797.87,613.16L800.17,613.16L800.92,712.30L797.12,712.30ZM807.64,570.78L809.94,570.78L810.69,712.30L806.89,712.30ZM809.59,524.88L811.89,524.88L812.64,712.30L808.84,712.30ZM817.80,658.67L820.10,658.67L820.85,712.30L817.05,712.30ZM820.92,631.33L823.22,631.33L823.97,712.30L820.17,712.30ZM824.24,686.02L826.54,686.02L826.99,712.30L823.79,712.30ZM828.15,635.23L830.45,635.23L831.20,712.30L827.40,712.30ZM829.51,628.01L831.81,628.01L832.56,712.30L828.76,712.30ZM834.40,693.83L836.70,693.83L837.15,712.30L833.95,712.30ZM839.51,660.62L843.31,660.62L844.01,712.30L838.81,712.30ZM851.98,603.98L854.27,603.98L855.02,712.30L851.23,712.30ZM856.47,691.88L858.77,691.88L859.22,712.30L856.02,712.30ZM862.72,646.37L865.02,646.37L865.77,712.30L861.97,712.30ZM866.82,694.80L869.12,694.80L869.57,712.30L866.37,712.30ZM872.76,537.58L875.06,537.58L875.81,712.30L872.01,712.30ZM875.69,670.39L877.99,670.39L878.74,712.30L874.94,712.30ZM878.03,640.70L880.33,640.70L881.08,712.30L877.28,712.30ZM884.48,456.13L886.77,456.13L887.52,712.30L883.73,712.30ZM889.75,574.30L892.05,574.30L892.80,712.30L889.00,712.30ZM894.83,550.27L897.13,550.27L897.88,712.30L894.08,712.30ZM899.71,686.02L902.01,686.02L902.46,712.30L899.26,712.30ZM904.98,543.83L907.28,543.83L908.03,712.30L904.23,712.30ZM909.87,583.09L912.17,583.09L912.92,712.30L909.12,712.30ZM914.75,676.25L917.05,676.25L917.50,712.30L914.30,712.30ZM916.70,552.81L919.00,552.81L919.75,712.30L915.95,712.30ZM920.02,679.77L922.32,679.77L922.77,712.30L919.57,712.30ZM928.03,479.96L930.33,479.96L931.08,712.30L927.28,712.30ZM936.23,693.83L938.53,693.83L938.98,712.30L935.78,712.30ZM938.19,622.15L940.49,622.15L941.24,712.30L937.44,712.30ZM941.70,697.73L944.00,697.73L944.45,712.30L941.25,712.30ZM947.95,406.72L950.25,406.72L951.00,712.30L947.20,712.30ZM958.30,407.11L960.60,407.11L961.35,712.30L957.55,712.30ZM960.26,612.77L962.56,612.77L963.31,712.30L959.51,712.30ZM963.58,697.73L965.88,697.73L966.33,712.30L963.13,712.30ZM968.30,616.29L972.10,616.29L972.80,712.30L967.60,712.30ZM978.23,700.66L980.52,700.66L980.98,712.30L977.77,712.30ZM979.79,540.51L982.09,540.51L982.84,712.30L979.04,712.30ZM991.51,437.58L993.81,437.58L994.56,712.30L990.76,712.30ZM994.83,693.83L997.13,693.83L997.58,712.30L994.38,712.30ZM996.78,687.97L999.08,687.97L999.53,712.30L996.33,712.30ZM1001.66,407.11L1003.96,407.11L1004.71,712.30L1000.91,712.30ZM1003.62,576.64L1005.92,576.64L1006.67,712.30L1002.87,712.30ZM1006.94,649.30L1009.24,649.30L1009.99,712.30L1006.19,712.30ZM1011.43,676.25L1013.73,676.25L1014.18,712.30L1010.98,712.30ZM1013.38,406.13L1015.68,406.13L1016.43,712.30L1012.63,712.30ZM1016.70,697.73L1019.00,697.73L1019.45,712.30L1016.25,712.30ZM1023.54,407.11L1025.84,407.11L1026.59,712.30L1022.79,712.30ZM1026.66,546.37L1028.96,546.37L1029.71,712.30L1025.91,712.30ZM1033.50,406.13L1035.80,406.13L1036.55,712.30L1032.75,712.30ZM1037.21,697.73L1039.51,697.73L1039.96,712.30L1036.76,712.30ZM1048.54,707.11L1050.84,707.11L1051.29,712.30L1048.09,712.30ZM1054.98,407.11L1057.28,407.11L1058.03,712.30L1054.23,712.30ZM1065.14,406.72L1067.44,406.72L1068.19,712.30L1064.39,712.30ZM1070.14,676.25L1072.44,676.25L1072.89,712.30L1069.69,712.30ZM1076.97,528.79L1079.28,528.79L1080.03,712.30L1076.22,712.30ZM1080.13,687.97L1083.93,687.97L1084.63,712.30L1079.43,712.30ZM1087.13,628.01L1089.43,628.01L1090.18,712.30L1086.38,712.30ZM1092.01,558.67L1094.31,558.67L1095.06,712.30L1091.26,712.30ZM1096.51,670.39L1098.81,670.39L1099.56,712.30L1095.76,712.30ZM1098.85,408.28L1101.15,408.28L1101.90,712.30L1098.10,712.30ZM1101.97,707.11L1104.28,707.11L1104.72,712.30L1101.53,712.30ZM1108.81,406.33L1111.11,406.33L1111.86,712.30L1108.06,712.30ZM1113.11,700.66L1115.41,700.66L1115.86,712.30L1112.66,712.30ZM1118.80,405.74L1122.60,405.74L1123.30,712.30L1118.10,712.30ZM1123.85,703.59L1126.15,703.59L1126.60,712.30L1123.40,712.30ZM1130.69,570.78L1132.99,570.78L1133.74,712.30L1129.94,712.30ZM1135.57,637.19L1137.87,637.19L1138.62,712.30L1134.82,712.30ZM1138.50,703.59L1140.80,703.59L1141.25,712.30L1138.05,712.30ZM1140.45,598.12L1142.75,598.12L1143.50,712.30L1139.70,712.30ZM1144.94,703.59L1147.24,703.59L1147.69,712.30L1144.49,712.30ZM1151.42,667.46L1155.22,667.46L1155.92,712.30L1150.72,712.30ZM1161.94,693.83L1164.24,693.83L1164.69,712.30L1161.49,712.30ZM1164.47,707.11L1166.78,707.11L1167.22,712.30L1164.03,712.30ZM1173.26,686.02L1175.56,686.02L1176.01,712.30L1172.81,712.30Z" fill="#000"/>
<path d="M238.05,651.36L238.05,646.96M238.05,651.36L242.24,650.00M238.05,651.36L240.64,654.92M238.05,651.36L235.47,654.92M238.05,651.36L233.87,650.00M248.01,574.80L248.01,570.40M248.01,574.80L252.20,573.44M248.01,574.80L250.60,578.36M248.01,574.80L245.43,578.36M248.01,574.80L243.83,573.44M259.73,644.52L259.73,640.12M259.73,644.52L263.92,643.16M259.73,644.52L262.32,648.08M259.73,644.52L257.14,648.08M259.73,644.52L255.55,643.16M356.10,647.45L356.10,643.05M356.10,647.45L360.28,646.09M356.10,647.45L358.68,651.01M356.10,647.45L353.51,651.01M356.10,647.45L351.91,646.09M366.25,594.72L366.25,590.32M366.25,594.72L370.44,593.36M366.25,594.72L368.84,598.28M366.25,594.72L363.67,598.28M366.25,594.72L362.07,593.36M376.61,561.52L376.61,557.12M376.61,561.52L380.79,560.16M376.61,561.52L379.19,565.08M376.61,561.52L374.02,565.08M376.61,561.52L372.42,560.16M388.13,527.34L388.13,522.94M388.13,527.34L392.31,525.98M388.13,527.34L390.72,530.90M388.13,527.34L385.54,530.90M388.13,527.34L383.95,525.98M398.09,430.27L398.09,425.87M398.09,430.27L402.28,428.91M398.09,430.27L400.68,433.83M398.09,430.27L395.50,433.83M398.09,430.27L393.91,428.91M483.13,655.27L483.13,650.87M483.13,655.27L487.31,653.91M483.13,655.27L485.72,658.83M483.13,655.27L480.54,658.83M483.13,655.27L478.95,653.91M495.24,585.93L495.24,581.53M495.24,585.93L499.42,584.57M495.24,585.93L497.83,589.49M495.24,585.93L492.65,589.49M495.24,585.93L491.05,584.57M505.20,525.97L505.20,521.57M505.20,525.97L509.38,524.61M505.20,525.97L507.79,529.53M505.20,525.97L502.61,529.53M505.20,525.97L501.02,524.61M514.97,558.59L514.97,554.19M514.97,558.59L519.15,557.23M514.97,558.59L517.55,562.15M514.97,558.59L512.38,562.15M514.97,558.59L510.78,557.23M526.68,651.75L526.68,647.35M526.68,651.75L530.87,650.39M526.68,651.75L529.27,655.31M526.68,651.75L524.10,655.31M526.68,651.75L522.50,650.39M612.23,651.36L612.23,646.96M612.23,651.36L616.42,650.00M612.23,651.36L614.82,654.92M612.23,651.36L609.64,654.92M612.23,651.36L608.05,650.00M623.95,608.78L623.95,604.38M623.95,608.78L628.13,607.42M623.95,608.78L626.54,612.34M623.95,608.78L621.36,612.34M623.95,608.78L619.77,607.42M633.72,554.68L633.72,550.28M633.72,554.68L637.90,553.32M633.72,554.68L636.30,558.24M633.72,554.68L631.13,558.24M633.72,554.68L629.53,553.32M643.87,525.97L643.87,521.57M643.87,525.97L648.06,524.61M643.87,525.97L646.46,529.53M643.87,525.97L641.29,529.53M643.87,525.97L639.69,524.61M655.40,666.59L655.40,662.19M655.40,666.59L659.58,665.23M655.40,666.59L657.98,670.15M655.40,666.59L652.81,670.15M655.40,666.59L651.21,665.23M728.91,645.50L728.91,641.10M728.91,645.50L733.10,644.14M728.91,645.50L731.50,649.06M728.91,645.50L726.32,649.06M728.91,645.50L724.73,644.14M740.24,610.93L740.24,606.53M740.24,610.93L744.42,609.57M740.24,610.93L742.83,614.49M740.24,610.93L737.65,614.49M740.24,610.93L736.05,609.57M750.79,582.02L750.79,577.62M750.79,582.02L754.97,580.66M750.79,582.02L753.37,585.58M750.79,582.02L748.20,585.58M750.79,582.02L746.60,580.66M762.50,581.05L762.50,576.65M762.50,581.05L766.69,579.69M762.50,581.05L765.09,584.61M762.50,581.05L759.92,584.61M762.50,581.05L758.32,579.69M772.27,659.17L772.27,654.77M772.27,659.17L776.45,657.81M772.27,659.17L774.86,662.73M772.27,659.17L769.68,662.73M772.27,659.17L768.09,657.81M879.38,633.78L879.38,629.38M879.38,633.78L883.56,632.42M879.38,633.78L881.97,637.34M879.38,633.78L876.79,637.34M879.38,633.78L875.20,632.42M891.10,567.38L891.10,562.98M891.10,567.38L895.28,566.02M891.10,567.38L893.68,570.93M891.10,567.38L888.51,570.93M891.10,567.38L886.91,566.02M911.22,576.16L911.22,571.76M911.22,576.16L915.40,574.80M911.22,576.16L913.80,579.72M911.22,576.16L908.63,579.72M911.22,576.16L907.03,574.80M998.13,680.66L998.13,676.26M998.13,680.66L1002.31,679.30M998.13,680.66L1000.72,684.22M998.13,680.66L995.54,684.22M998.13,680.66L993.95,679.30M1008.29,642.57L1008.29,638.17M1008.29,642.57L1012.47,641.21M1008.29,642.57L1010.87,646.13M1008.29,642.57L1005.70,646.13M1008.29,642.57L1004.10,641.21M1125.20,694.33L1125.20,689.93M1125.20,694.33L1129.38,692.97M1125.20,694.33L1127.79,697.89M1125.20,694.33L1122.61,697.89M1125.20,694.33L1121.02,692.97M1136.92,627.92L1136.92,623.52M1136.92,627.92L1141.10,626.56M1136.92,627.92L1139.51,631.48M1136.92,627.92L1134.33,631.48M1136.92,627.92L1132.73,626.56" stroke="#EC1C24" stroke-width="2.1" fill="none"/>
<line x1="95.20" y1="829.80" x2="95.20" y2="1133.80" stroke="#000" stroke-width="2" />
<line x1="83.70" y1="830.80" x2="95.20" y2="830.80" stroke="#000" stroke-width="2" />
<text x="73.40" y="840.20" font-size="27" text-anchor="end" >100</text>
<line x1="83.70" y1="892.60" x2="95.20" y2="892.60" stroke="#000" stroke-width="2" />
<text x="73.40" y="900.95" font-size="27" text-anchor="end" >80</text>
<line x1="83.70" y1="953.20" x2="95.20" y2="953.20" stroke="#000" stroke-width="2" />
<text x="73.40" y="961.70" font-size="27" text-anchor="end" >60</text>
<line x1="83.70" y1="1015.30" x2="95.20" y2="1015.30" stroke="#000" stroke-width="2" />
<text x="73.40" y="1022.45" font-size="27" text-anchor="end" >40</text>
<line x1="83.70" y1="1075.40" x2="95.20" y2="1075.40" stroke="#000" stroke-width="2" />
<text x="73.40" y="1081.45" font-size="27" text-anchor="end" >20</text>
<line x1="83.70" y1="1134.10" x2="95.20" y2="1134.10" stroke="#000" stroke-width="2" />
<text x="73.40" y="1143.35" font-size="27" text-anchor="end" >0</text>
<line x1="83.70" y1="1133.80" x2="1176.00" y2="1133.80" stroke="#000" stroke-width="2.6" />
<line x1="93.30" y1="1133.80" x2="93.30" y2="1144.80" stroke="#000" stroke-width="2" />
<text x="92.50" y="1171.80" font-size="27.3" text-anchor="middle" >700</text>
<line x1="308.50" y1="1133.80" x2="308.50" y2="1144.80" stroke="#000" stroke-width="2" />
<text x="306.00" y="1171.80" font-size="27.3" text-anchor="middle" >720</text>
<line x1="525.80" y1="1133.80" x2="525.80" y2="1144.80" stroke="#000" stroke-width="2" />
<text x="520.00" y="1171.80" font-size="27.3" text-anchor="middle" >740</text>
<line x1="742.00" y1="1133.80" x2="742.00" y2="1144.80" stroke="#000" stroke-width="2" />
<text x="740.50" y="1171.80" font-size="27.3" text-anchor="middle" >760</text>
<line x1="959.80" y1="1133.80" x2="959.80" y2="1144.80" stroke="#000" stroke-width="2" />
<text x="958.00" y="1171.80" font-size="27.3" text-anchor="middle" >780</text>
<line x1="1173.00" y1="1133.80" x2="1173.00" y2="1144.80" stroke="#000" stroke-width="2" />
<text x="1170.50" y="1171.80" font-size="27.3" text-anchor="middle" >800</text>
<text x="605" y="1205.5" font-size="33" font-style="italic">m/z</text>
<text x="1.50" y="807.00" font-size="33.8" text-anchor="start" >E. 24h SCI</text>
<text transform="translate(12.90,981.00) rotate(-90)" x="0" y="9.80" font-size="28" text-anchor="middle">Relative intensity (%)</text>
<path d="M97.64,1081.38L99.94,1081.38L100.69,1133.80L96.89,1133.80ZM107.63,830.20L111.43,830.20L112.13,1133.80L106.93,1133.80ZM112.68,1129.03L114.98,1129.03L115.43,1133.80L112.23,1133.80ZM119.12,831.18L121.42,831.18L122.17,1133.80L118.37,1133.80ZM124.01,1122.78L126.31,1122.78L126.76,1133.80L123.56,1133.80ZM129.47,1084.70L131.78,1084.70L132.53,1133.80L128.72,1133.80ZM134.75,1118.88L137.05,1118.88L137.50,1133.80L134.30,1133.80ZM139.24,831.77L141.54,831.77L142.29,1133.80L138.49,1133.80ZM144.51,1122.39L146.81,1122.39L147.26,1133.80L144.06,1133.80ZM151.35,832.16L153.65,832.16L154.40,1133.80L150.60,1133.80ZM161.51,1102.27L163.81,1102.27L164.26,1133.80L161.06,1133.80ZM165.02,1129.62L167.32,1129.62L167.77,1133.80L164.57,1133.80ZM171.27,1074.93L173.57,1074.93L174.32,1133.80L170.52,1133.80ZM182.99,1084.70L185.29,1084.70L186.04,1133.80L182.24,1133.80ZM192.95,995.83L195.25,995.83L196.00,1133.80L192.20,1133.80ZM203.11,830.20L205.41,830.20L206.16,1133.80L202.36,1133.80ZM207.99,1129.62L210.29,1129.62L210.74,1133.80L207.54,1133.80ZM213.07,829.42L215.37,829.42L216.12,1133.80L212.32,1133.80ZM218.15,1087.62L220.45,1087.62L221.20,1133.80L217.40,1133.80ZM222.83,830.79L225.13,830.79L225.88,1133.80L222.08,1133.80ZM228.69,1131.57L230.99,1131.57L231.44,1133.80L228.24,1133.80ZM234.75,830.20L237.05,830.20L237.80,1133.80L234.00,1133.80ZM239.63,1122.39L241.93,1122.39L242.38,1133.80L239.18,1133.80ZM244.71,945.05L247.01,945.05L247.76,1133.80L243.96,1133.80ZM251.55,1091.53L253.85,1091.53L254.60,1133.80L250.80,1133.80ZM256.43,829.81L258.73,829.81L259.48,1133.80L255.68,1133.80ZM261.70,1044.07L264.00,1044.07L264.75,1133.80L260.95,1133.80ZM266.58,951.88L268.88,951.88L269.63,1133.80L265.83,1133.80ZM271.47,1088.02L273.77,1088.02L274.52,1133.80L270.72,1133.80ZM276.74,1026.69L279.04,1026.69L279.79,1133.80L275.99,1133.80ZM288.73,1074.93L291.03,1074.93L291.78,1133.80L287.98,1133.80ZM298.50,1098.37L300.80,1098.37L301.25,1133.80L298.05,1133.80ZM302.99,1125.71L305.29,1125.71L305.74,1133.80L302.54,1133.80ZM308.26,1105.20L310.56,1105.20L311.01,1133.80L307.81,1133.80ZM313.15,1108.13L315.45,1108.13L315.90,1133.80L312.70,1133.80ZM318.42,1053.84L320.72,1053.84L321.47,1133.80L317.67,1133.80ZM330.14,972.00L332.44,972.00L333.19,1133.80L329.39,1133.80ZM333.65,1108.13L335.95,1108.13L336.40,1133.80L333.20,1133.80ZM340.10,866.53L342.40,866.53L343.15,1133.80L339.35,1133.80ZM350.26,1023.17L352.56,1023.17L353.31,1133.80L349.51,1133.80ZM355.14,1131.57L357.44,1131.57L357.89,1133.80L354.69,1133.80ZM360.25,829.42L364.05,829.42L364.75,1133.80L359.55,1133.80ZM367.25,1088.02L369.55,1088.02L370.30,1133.80L366.50,1133.80ZM371.94,830.79L374.24,830.79L374.99,1133.80L371.19,1133.80ZM376.82,1044.07L379.12,1044.07L379.87,1133.80L376.07,1133.80ZM382.09,1003.05L384.39,1003.05L385.14,1133.80L381.34,1133.80ZM386.98,1040.16L389.27,1040.16L390.02,1133.80L386.23,1133.80ZM391.86,1118.88L394.16,1118.88L394.61,1133.80L391.41,1133.80ZM393.81,830.79L396.11,830.79L396.86,1133.80L393.06,1133.80ZM398.69,986.06L400.99,986.06L401.74,1133.80L397.94,1133.80ZM403.58,831.18L405.88,831.18L406.63,1133.80L402.83,1133.80ZM408.85,934.70L411.15,934.70L411.90,1133.80L408.10,1133.80ZM413.96,829.81L417.76,829.81L418.46,1133.80L413.26,1133.80ZM417.87,1108.13L421.67,1108.13L422.37,1133.80L417.17,1133.80ZM425.45,830.79L427.75,830.79L428.50,1133.80L424.70,1133.80ZM435.61,830.79L437.91,830.79L438.66,1133.80L434.86,1133.80ZM439.12,1074.93L441.42,1074.93L442.17,1133.80L438.37,1133.80ZM445.57,1057.35L447.87,1057.35L448.62,1133.80L444.82,1133.80ZM450.45,1131.57L452.75,1131.57L453.20,1133.80L450.00,1133.80ZM455.73,1129.62L458.02,1129.62L458.48,1133.80L455.27,1133.80ZM459.24,1064.19L461.54,1064.19L462.29,1133.80L458.49,1133.80ZM467.44,1033.52L469.74,1033.52L470.49,1133.80L466.69,1133.80ZM471.35,1131.57L473.65,1131.57L474.10,1133.80L470.90,1133.80ZM477.21,1102.27L479.51,1102.27L479.96,1133.80L476.76,1133.80ZM480.80,1091.53L483.10,1091.53L483.85,1133.80L480.05,1133.80ZM482.76,1118.88L485.06,1118.88L485.51,1133.80L482.31,1133.80ZM489.01,1047.59L491.31,1047.59L492.06,1133.80L488.26,1133.80ZM492.52,1102.27L494.82,1102.27L495.27,1133.80L492.07,1133.80ZM497.40,1125.71L499.70,1125.71L500.15,1133.80L496.95,1133.80ZM499.16,1044.07L501.46,1044.07L502.21,1133.80L498.41,1133.80ZM504.05,1047.59L506.35,1047.59L507.10,1133.80L503.30,1133.80ZM508.37,934.70L512.17,934.70L512.87,1133.80L507.67,1133.80ZM514.01,1003.05L516.31,1003.05L517.06,1133.80L513.26,1133.80ZM519.28,968.88L521.58,968.88L522.33,1133.80L518.53,1133.80ZM524.16,1020.24L526.46,1020.24L527.21,1133.80L523.41,1133.80ZM530.61,1053.84L532.91,1053.84L533.66,1133.80L529.86,1133.80ZM534.51,1095.44L536.81,1095.44L537.26,1133.80L534.06,1133.80ZM539.40,1091.53L541.70,1091.53L542.45,1133.80L538.65,1133.80ZM541.35,1112.04L543.65,1112.04L544.10,1133.80L540.90,1133.80ZM546.23,1129.62L548.53,1129.62L548.98,1133.80L545.78,1133.80ZM551.12,1084.70L553.42,1084.70L554.17,1133.80L550.37,1133.80ZM560.88,1013.41L563.18,1013.41L563.93,1133.80L560.13,1133.80ZM565.76,1074.93L568.06,1074.93L568.81,1133.80L565.01,1133.80ZM570.65,1114.97L572.95,1114.97L573.40,1133.80L570.20,1133.80ZM572.99,1084.70L575.29,1084.70L576.04,1133.80L572.24,1133.80ZM582.95,982.55L585.25,982.55L586.00,1133.80L582.20,1133.80ZM587.83,1129.62L590.13,1129.62L590.58,1133.80L587.38,1133.80ZM592.72,1053.84L595.02,1053.84L595.77,1133.80L591.97,1133.80ZM604.44,1102.27L606.74,1102.27L607.19,1133.80L603.99,1133.80ZM614.20,830.79L616.50,830.79L617.25,1133.80L613.45,1133.80ZM619.48,1102.27L621.77,1102.27L622.23,1133.80L619.02,1133.80ZM624.36,831.18L626.66,831.18L627.41,1133.80L623.61,1133.80ZM629.63,1067.70L631.93,1067.70L632.68,1133.80L628.88,1133.80ZM634.51,1020.24L636.81,1020.24L637.56,1133.80L633.76,1133.80ZM639.59,1026.69L641.89,1026.69L642.64,1133.80L638.84,1133.80ZM644.28,1122.78L646.58,1122.78L647.03,1133.80L643.83,1133.80ZM646.43,996.41L648.73,996.41L649.48,1133.80L645.68,1133.80ZM651.31,1005.98L653.61,1005.98L654.36,1133.80L650.56,1133.80ZM656.00,1003.05L658.30,1003.05L659.05,1133.80L655.25,1133.80ZM661.47,1108.13L663.77,1108.13L664.22,1133.80L661.02,1133.80ZM666.35,1077.86L668.65,1077.86L669.40,1133.80L665.60,1133.80ZM671.23,1129.62L673.53,1129.62L673.98,1133.80L670.78,1133.80ZM676.62,1105.20L680.42,1105.20L681.12,1133.80L675.92,1133.80ZM689.48,910.87L691.77,910.87L692.52,1133.80L688.73,1133.80ZM692.99,1122.39L695.29,1122.39L695.74,1133.80L692.54,1133.80ZM699.24,869.46L701.54,869.46L702.29,1133.80L698.49,1133.80ZM709.59,1009.89L711.89,1009.89L712.64,1133.80L708.84,1133.80ZM712.91,1129.62L715.21,1129.62L715.66,1133.80L712.46,1133.80ZM719.75,934.70L722.05,934.70L722.80,1133.80L719.00,1133.80ZM729.90,1003.05L732.20,1003.05L732.95,1133.80L729.15,1133.80ZM731.69,1108.13L735.49,1108.13L736.19,1133.80L730.99,1133.80ZM739.87,1081.38L742.17,1081.38L742.92,1133.80L739.12,1133.80ZM741.62,1074.93L743.92,1074.93L744.67,1133.80L740.87,1133.80ZM744.75,1108.13L747.05,1108.13L747.50,1133.80L744.30,1133.80ZM750.02,1122.78L752.32,1122.78L752.77,1133.80L749.57,1133.80ZM751.58,830.79L753.88,830.79L754.63,1133.80L750.83,1133.80ZM754.51,1105.20L756.81,1105.20L757.26,1133.80L754.06,1133.80ZM756.86,1060.67L759.16,1060.67L759.91,1133.80L756.11,1133.80ZM761.74,934.70L764.04,934.70L764.79,1133.80L760.99,1133.80ZM766.62,1050.91L768.92,1050.91L769.67,1133.80L765.87,1133.80ZM771.51,1044.07L773.81,1044.07L774.56,1133.80L770.76,1133.80ZM773.85,1084.70L776.15,1084.70L776.90,1133.80L773.10,1133.80ZM778.34,1102.27L780.64,1102.27L781.09,1133.80L777.89,1133.80ZM783.23,1050.91L785.52,1050.91L786.27,1133.80L782.48,1133.80ZM788.69,1129.62L790.99,1129.62L791.44,1133.80L788.24,1133.80ZM793.38,1064.19L795.68,1064.19L796.43,1133.80L792.63,1133.80ZM804.71,1077.86L807.01,1077.86L807.76,1133.80L803.96,1133.80ZM815.45,1050.91L817.75,1050.91L818.50,1133.80L814.70,1133.80ZM825.22,1053.84L827.52,1053.84L828.27,1133.80L824.47,1133.80ZM829.51,1128.64L831.81,1128.64L832.26,1133.80L829.06,1133.80ZM834.98,1108.13L837.28,1108.13L837.73,1133.80L834.53,1133.80ZM839.87,1098.37L842.17,1098.37L842.62,1133.80L839.42,1133.80ZM845.73,1097.39L848.02,1097.39L848.48,1133.80L845.27,1133.80ZM855.10,1064.19L857.40,1064.19L858.15,1133.80L854.35,1133.80ZM857.44,1068.09L859.74,1068.09L860.49,1133.80L856.69,1133.80ZM861.74,1108.13L864.04,1108.13L864.49,1133.80L861.29,1133.80ZM867.21,1102.27L869.51,1102.27L869.96,1133.80L866.76,1133.80ZM871.78,1129.62L874.08,1129.62L874.53,1133.80L871.33,1133.80ZM876.89,965.55L880.69,965.55L881.39,1133.80L876.19,1133.80ZM883.11,1091.53L885.41,1091.53L886.16,1133.80L882.36,1133.80ZM888.38,914.19L890.68,914.19L891.43,1133.80L887.63,1133.80ZM893.65,1053.84L895.95,1053.84L896.70,1133.80L892.90,1133.80ZM898.73,1030.01L901.03,1030.01L901.78,1133.80L897.98,1133.80ZM903.62,1122.39L905.92,1122.39L906.37,1133.80L903.17,1133.80ZM910.45,992.90L912.75,992.90L913.50,1133.80L909.70,1133.80ZM913.77,1102.27L916.07,1102.27L916.52,1133.80L913.32,1133.80ZM920.22,1044.07L922.52,1044.07L923.27,1133.80L919.47,1133.80ZM924.51,1125.71L926.81,1125.71L927.26,1133.80L924.06,1133.80ZM930.37,907.35L932.67,907.35L933.42,1133.80L929.62,1133.80ZM942.09,1030.01L944.39,1030.01L945.14,1133.80L941.34,1133.80ZM950.72,830.79L954.52,830.79L955.22,1133.80L950.02,1133.80ZM962.21,831.77L964.51,831.77L965.26,1133.80L961.46,1133.80ZM967.09,1129.62L969.39,1129.62L969.84,1133.80L966.64,1133.80ZM972.37,996.22L974.67,996.22L975.42,1133.80L971.62,1133.80ZM982.52,1023.56L984.82,1023.56L985.57,1133.80L981.77,1133.80ZM992.29,1118.88L994.59,1118.88L995.04,1133.80L991.84,1133.80ZM993.85,968.88L996.15,968.88L996.90,1133.80L993.10,1133.80ZM999.12,1129.62L1001.42,1129.62L1001.87,1133.80L998.67,1133.80ZM1004.23,893.88L1008.03,893.88L1008.73,1133.80L1003.53,1133.80ZM1009.08,1102.27L1011.38,1102.27L1011.83,1133.80L1008.63,1133.80ZM1013.97,1112.04L1016.27,1112.04L1016.72,1133.80L1013.52,1133.80ZM1015.73,955.20L1018.02,955.20L1018.77,1133.80L1014.98,1133.80ZM1018.85,1129.62L1021.15,1129.62L1021.60,1133.80L1018.40,1133.80ZM1025.69,830.79L1027.99,830.79L1028.74,1133.80L1024.94,1133.80ZM1029.01,992.90L1031.31,992.90L1032.06,1133.80L1028.26,1133.80ZM1035.84,830.79L1038.14,830.79L1038.89,1133.80L1035.09,1133.80ZM1039.00,1121.80L1042.80,1121.80L1043.50,1133.80L1038.30,1133.80ZM1051.47,1132.55L1053.77,1132.55L1054.22,1133.80L1051.02,1133.80ZM1066.34,832.74L1070.14,832.74L1070.84,1133.80L1065.64,1133.80ZM1072.68,1112.04L1074.98,1112.04L1075.43,1133.80L1072.23,1133.80ZM1077.95,1129.62L1080.25,1129.62L1080.70,1133.80L1077.50,1133.80ZM1079.32,945.05L1081.62,945.05L1082.37,1133.80L1078.57,1133.80ZM1089.28,1067.70L1091.58,1067.70L1092.33,1133.80L1088.53,1133.80ZM1093.19,1084.70L1095.49,1084.70L1096.24,1133.80L1092.44,1133.80ZM1098.10,830.79L1101.90,830.79L1102.60,1133.80L1097.40,1133.80ZM1101.39,1114.97L1103.69,1114.97L1104.14,1133.80L1100.94,1133.80ZM1109.79,832.16L1112.09,832.16L1112.84,1133.80L1109.04,1133.80ZM1114.47,1125.71L1116.78,1125.71L1117.22,1133.80L1114.03,1133.80ZM1120.92,833.33L1123.22,833.33L1123.97,1133.80L1120.17,1133.80ZM1131.27,924.15L1133.57,924.15L1134.32,1133.80L1130.52,1133.80ZM1134.82,1097.78L1138.62,1097.78L1139.32,1133.80L1134.12,1133.80ZM1141.43,1033.52L1143.73,1033.52L1144.48,1133.80L1140.68,1133.80ZM1146.70,1132.55L1149.00,1132.55L1149.45,1133.80L1146.25,1133.80ZM1152.76,1088.02L1155.06,1088.02L1155.81,1133.80L1152.01,1133.80ZM1162.91,1114.97L1165.21,1114.97L1165.66,1133.80L1162.46,1133.80Z" fill="#000"/>
<path d="M240.98,1114.49L240.98,1110.09M240.98,1114.49L245.17,1113.13M240.98,1114.49L243.57,1118.05M240.98,1114.49L238.39,1118.05M240.98,1114.49L236.80,1113.13M252.90,1082.27L252.90,1077.87M252.90,1082.27L257.08,1080.91M252.90,1082.27L255.48,1085.83M252.90,1082.27L250.31,1085.83M252.90,1082.27L248.71,1080.91M263.05,1036.37L263.05,1031.97M263.05,1036.37L267.24,1035.01M263.05,1036.37L265.64,1039.93M263.05,1036.37L260.47,1039.93M263.05,1036.37L258.87,1035.01M272.82,1080.31L272.82,1075.91M272.82,1080.31L277.00,1078.95M272.82,1080.31L275.40,1083.87M272.82,1080.31L270.23,1083.87M272.82,1080.31L268.63,1078.95M368.60,1081.29L368.60,1076.89M368.60,1081.29L372.78,1079.93M368.60,1081.29L371.18,1084.85M368.60,1081.29L366.01,1084.85M368.60,1081.29L364.41,1079.93M378.17,1035.39L378.17,1030.99M378.17,1035.39L382.35,1034.03M378.17,1035.39L380.76,1038.95M378.17,1035.39L375.58,1038.95M378.17,1035.39L373.98,1034.03M388.32,1028.55L388.32,1024.15M388.32,1028.55L392.51,1027.20M388.32,1028.55L390.91,1032.11M388.32,1028.55L385.74,1032.11M388.32,1028.55L384.14,1027.20M400.04,976.41L400.04,972.01M400.04,976.41L404.23,975.05M400.04,976.41L402.63,979.97M400.04,976.41L397.46,979.97M400.04,976.41L395.86,975.05M410.20,926.02L410.20,921.62M410.20,926.02L414.38,924.66M410.20,926.02L412.79,929.58M410.20,926.02L407.61,929.58M410.20,926.02L406.02,924.66M493.87,1093.98L493.87,1089.58M493.87,1093.98L498.06,1092.62M493.87,1093.98L496.46,1097.54M493.87,1093.98L491.29,1097.54M493.87,1093.98L489.69,1092.62M505.40,1039.30L505.40,1034.90M505.40,1039.30L509.58,1037.94M505.40,1039.30L507.98,1042.86M505.40,1039.30L502.81,1042.86M505.40,1039.30L501.21,1037.94M515.36,995.35L515.36,990.95M515.36,995.35L519.54,993.99M515.36,995.35L517.94,998.91M515.36,995.35L512.77,998.91M515.36,995.35L511.17,993.99M525.51,1014.88L525.51,1010.48M525.51,1014.88L529.70,1013.52M525.51,1014.88L528.10,1018.44M525.51,1014.88L522.93,1018.44M525.51,1014.88L521.33,1013.52M535.86,1085.20L535.86,1080.80M535.86,1085.20L540.05,1083.84M535.86,1085.20L538.45,1088.75M535.86,1085.20L533.28,1088.75M535.86,1085.20L531.68,1083.84M620.83,1095.94L620.83,1091.54M620.83,1095.94L625.01,1094.58M620.83,1095.94L623.41,1099.50M620.83,1095.94L618.24,1099.50M620.83,1095.94L616.64,1094.58M630.98,1060.78L630.98,1056.38M630.98,1060.78L635.17,1059.42M630.98,1060.78L633.57,1064.34M630.98,1060.78L628.39,1064.34M630.98,1060.78L626.80,1059.42M640.94,1018.40L640.94,1014.00M640.94,1018.40L645.13,1017.04M640.94,1018.40L643.53,1021.96M640.94,1018.40L638.36,1021.96M640.94,1018.40L636.76,1017.04M652.66,998.28L652.66,993.88M652.66,998.28L656.85,996.92M652.66,998.28L655.25,1001.84M652.66,998.28L650.07,1001.84M652.66,998.28L648.48,996.92M662.82,1098.87L662.82,1094.47M662.82,1098.87L667.00,1097.51M662.82,1098.87L665.40,1102.43M662.82,1098.87L660.23,1102.43M662.82,1098.87L658.63,1097.51M746.10,1099.84L746.10,1095.44M746.10,1099.84L750.28,1098.48M746.10,1099.84L748.68,1103.40M746.10,1099.84L743.51,1103.40M746.10,1099.84L741.91,1098.48M758.21,1052.97L758.21,1048.57M758.21,1052.97L762.39,1051.61M758.21,1052.97L760.79,1056.53M758.21,1052.97L755.62,1056.53M758.21,1052.97L754.02,1051.61M767.97,1044.18L767.97,1039.78M767.97,1044.18L772.16,1042.82M767.97,1044.18L770.56,1047.74M767.97,1044.18L765.39,1047.74M767.97,1044.18L763.79,1042.82M779.69,1096.91L779.69,1092.51M779.69,1096.91L783.88,1095.55M779.69,1096.91L782.28,1100.47M779.69,1096.91L777.11,1100.47M779.69,1096.91L775.51,1095.55M884.46,1085.20L884.46,1080.80M884.46,1085.20L888.64,1083.84M884.46,1085.20L887.04,1088.75M884.46,1085.20L881.87,1088.75M884.46,1085.20L880.27,1083.84M895.00,1046.13L895.00,1041.73M895.00,1046.13L899.19,1044.77M895.00,1046.13L897.59,1049.69M895.00,1046.13L892.42,1049.69M895.00,1046.13L890.82,1044.77M904.97,1110.59L904.97,1106.19M904.97,1110.59L909.15,1109.23M904.97,1110.59L907.55,1114.15M904.97,1110.59L902.38,1114.15M904.97,1110.59L900.78,1109.23M1010.43,1093.01L1010.43,1088.61M1010.43,1093.01L1014.62,1091.65M1010.43,1093.01L1013.02,1096.57M1010.43,1093.01L1007.85,1096.57M1010.43,1093.01L1006.25,1091.65M1136.92,1089.10L1136.92,1084.70M1136.92,1089.10L1141.10,1087.74M1136.92,1089.10L1139.51,1092.66M1136.92,1089.10L1134.33,1092.66M1136.92,1089.10L1132.73,1087.74" stroke="#EC1C24" stroke-width="2.1" fill="none"/>
<text x="10.50" y="1247.30" font-size="34.5" text-anchor="start" >F</text>
<line x1="86.20" y1="1264.90" x2="86.20" y2="1539.90" stroke="#000" stroke-width="2.1" />
<line x1="77.70" y1="1265.90" x2="86.20" y2="1265.90" stroke="#000" stroke-width="2.1" />
<text x="75.90" y="1275.25" font-size="26.7" text-anchor="end" >5</text>
<line x1="77.70" y1="1334.30" x2="86.20" y2="1334.30" stroke="#000" stroke-width="2.1" />
<text x="75.90" y="1343.64" font-size="26.7" text-anchor="end" >4</text>
<line x1="77.70" y1="1402.40" x2="86.20" y2="1402.40" stroke="#000" stroke-width="2.1" />
<text x="75.90" y="1411.75" font-size="26.7" text-anchor="end" >3</text>
<line x1="77.70" y1="1470.50" x2="86.20" y2="1470.50" stroke="#000" stroke-width="2.1" />
<text x="75.90" y="1479.85" font-size="26.7" text-anchor="end" >2</text>
<line x1="77.70" y1="1538.90" x2="86.20" y2="1538.90" stroke="#000" stroke-width="2.1" />
<text x="75.90" y="1548.25" font-size="26.7" text-anchor="end" >1</text>
<line x1="85.20" y1="1538.90" x2="265.30" y2="1538.90" stroke="#000" stroke-width="2.1" />
<text transform="translate(130.40,1570.90) rotate(-45)" x="0" y="0" font-size="26.3" text-anchor="end">Sham</text>
<text transform="translate(183.20,1570.90) rotate(-45)" x="0" y="0" font-size="26.3" text-anchor="end">3h SCI</text>
<text transform="translate(236.80,1570.90) rotate(-45)" x="0" y="0" font-size="26.3" text-anchor="end">24h SCI</text>
<text transform="translate(40.50,1399.00) rotate(-90)" x="0" y="8.92" font-size="25.5" text-anchor="middle">Cardiolipin (nmol/mg Pr)</text>
<line x1="121.90" y1="1280.70" x2="121.90" y2="1331.00" stroke="#000" stroke-width="2.1" />
<line x1="112.20" y1="1280.70" x2="130.60" y2="1280.70" stroke="#000" stroke-width="2.1" />
<line x1="112.20" y1="1331.00" x2="130.60" y2="1331.00" stroke="#000" stroke-width="2.1" />
<circle cx="121.90" cy="1287.60" r="4.95" fill="none" stroke="#000" stroke-width="2.1"/>
<circle cx="121.90" cy="1337.90" r="4.95" fill="none" stroke="#000" stroke-width="2.1"/>
<circle cx="121.90" cy="1353.90" r="4.95" fill="none" stroke="#000" stroke-width="2.1"/>
<line x1="103.30" y1="1306.00" x2="139.00" y2="1306.00" stroke="#000" stroke-width="2.1" />
<line x1="175.00" y1="1340.40" x2="175.00" y2="1373.60" stroke="#000" stroke-width="2.1" />
<line x1="166.30" y1="1340.40" x2="183.70" y2="1340.40" stroke="#000" stroke-width="2.1" />
<line x1="166.30" y1="1373.60" x2="183.70" y2="1373.60" stroke="#000" stroke-width="2.1" />
<circle cx="174.70" cy="1316.40" r="6.40" fill="#EC1480"/>
<circle cx="174.70" cy="1346.30" r="6.40" fill="#EC1480"/>
<circle cx="183.20" cy="1376.90" r="6.40" fill="#EC1480"/>
<circle cx="166.30" cy="1389.60" r="6.40" fill="#EC1480"/>
<line x1="156.90" y1="1357.80" x2="192.60" y2="1357.80" stroke="#000" stroke-width="2.1" />
<path d="M175.30,1300.00L175.30,1294.50M175.30,1300.00L180.53,1298.30M175.30,1300.00L178.53,1304.45M175.30,1300.00L172.07,1304.45M175.30,1300.00L170.07,1298.30" stroke="#000" stroke-width="2.4" fill="none"/>
<line x1="228.30" y1="1370.00" x2="228.30" y2="1384.50" stroke="#219CB4" stroke-width="2.1" />
<line x1="219.90" y1="1370.00" x2="236.70" y2="1370.00" stroke="#219CB4" stroke-width="2.1" />
<line x1="219.90" y1="1384.50" x2="236.70" y2="1384.50" stroke="#219CB4" stroke-width="2.1" />
<circle cx="218.10" cy="1369.20" r="6.40" fill="#219CB4"/>
<circle cx="228.30" cy="1370.50" r="6.40" fill="#219CB4"/>
<circle cx="238.50" cy="1369.20" r="6.40" fill="#219CB4"/>
<circle cx="228.30" cy="1398.60" r="6.40" fill="#219CB4"/>
<line x1="210.50" y1="1377.70" x2="246.20" y2="1377.70" stroke="#000" stroke-width="2.1" />
<path d="M222.50,1351.00L222.50,1345.50M222.50,1351.00L227.73,1349.30M222.50,1351.00L225.73,1355.45M222.50,1351.00L219.27,1355.45M222.50,1351.00L217.27,1349.30M236.50,1351.00L236.50,1345.50M236.50,1351.00L241.73,1349.30M236.50,1351.00L239.73,1355.45M236.50,1351.00L233.27,1355.45M236.50,1351.00L231.27,1349.30" stroke="#000" stroke-width="2.4" fill="none"/>
<text x="286.00" y="1247.30" font-size="34.5" text-anchor="start" >G</text>
<line x1="394.30" y1="1264.90" x2="394.30" y2="1539.90" stroke="#000" stroke-width="2.1" />
<line x1="385.80" y1="1265.90" x2="394.30" y2="1265.90" stroke="#000" stroke-width="2.1" />
<text x="384.00" y="1275.25" font-size="26.7" text-anchor="end" >0.20</text>
<line x1="385.80" y1="1334.30" x2="394.30" y2="1334.30" stroke="#000" stroke-width="2.1" />
<text x="384.00" y="1343.64" font-size="26.7" text-anchor="end" >0.15</text>
<line x1="385.80" y1="1402.40" x2="394.30" y2="1402.40" stroke="#000" stroke-width="2.1" />
<text x="384.00" y="1411.75" font-size="26.7" text-anchor="end" >0.10</text>
<line x1="385.80" y1="1470.50" x2="394.30" y2="1470.50" stroke="#000" stroke-width="2.1" />
<text x="384.00" y="1479.85" font-size="26.7" text-anchor="end" >0.05</text>
<line x1="385.80" y1="1538.90" x2="394.30" y2="1538.90" stroke="#000" stroke-width="2.1" />
<text x="384.00" y="1548.25" font-size="26.7" text-anchor="end" >0.00</text>
<line x1="393.30" y1="1538.90" x2="573.40" y2="1538.90" stroke="#000" stroke-width="2.1" />
<text transform="translate(439.00,1570.90) rotate(-45)" x="0" y="0" font-size="26.3" text-anchor="end">Sham</text>
<text transform="translate(492.50,1570.90) rotate(-45)" x="0" y="0" font-size="26.3" text-anchor="end">3h SCI</text>
<text transform="translate(545.60,1570.90) rotate(-45)" x="0" y="0" font-size="26.3" text-anchor="end">24h SCI</text>
<text transform="translate(308.20,1399.00) rotate(-90)" x="0" y="9.17" font-size="26.2" text-anchor="middle">Lyso-CL (nmol/mg Pr)</text>
<line x1="430.50" y1="1383.30" x2="430.50" y2="1397.30" stroke="#000" stroke-width="2.1" />
<line x1="422.90" y1="1383.30" x2="438.20" y2="1383.30" stroke="#000" stroke-width="2.1" />
<line x1="422.90" y1="1397.30" x2="438.20" y2="1397.30" stroke="#000" stroke-width="2.1" />
<circle cx="417.20" cy="1382.50" r="4.95" fill="none" stroke="#000" stroke-width="2.1"/>
<circle cx="440.20" cy="1382.00" r="4.95" fill="none" stroke="#000" stroke-width="2.1"/>
<circle cx="430.50" cy="1390.40" r="4.95" fill="none" stroke="#000" stroke-width="2.1"/>
<circle cx="430.50" cy="1410.80" r="4.95" fill="none" stroke="#000" stroke-width="2.1"/>
<line x1="412.10" y1="1390.40" x2="448.40" y2="1390.40" stroke="#000" stroke-width="2.1" />
<line x1="484.30" y1="1411.80" x2="484.30" y2="1433.80" stroke="#000" stroke-width="2.1" />
<line x1="476.40" y1="1411.80" x2="492.20" y2="1411.80" stroke="#000" stroke-width="2.1" />
<line x1="476.40" y1="1433.80" x2="492.20" y2="1433.80" stroke="#000" stroke-width="2.1" />
<circle cx="475.90" cy="1405.00" r="6.40" fill="#EC1480"/>
<circle cx="491.70" cy="1405.00" r="6.40" fill="#EC1480"/>
<circle cx="491.70" cy="1434.30" r="6.40" fill="#EC1480"/>
<circle cx="475.90" cy="1447.80" r="6.40" fill="#EC1480"/>
<line x1="466.20" y1="1423.30" x2="501.40" y2="1423.30" stroke="#000" stroke-width="2.1" />
<line x1="537.20" y1="1340.40" x2="537.20" y2="1366.00" stroke="#219CB4" stroke-width="2.1" />
<line x1="528.70" y1="1340.40" x2="545.80" y2="1340.40" stroke="#219CB4" stroke-width="2.1" />
<line x1="528.70" y1="1366.00" x2="545.80" y2="1366.00" stroke="#219CB4" stroke-width="2.1" />
<circle cx="537.10" cy="1314.40" r="6.40" fill="#219CB4"/>
<circle cx="528.70" cy="1364.10" r="6.40" fill="#219CB4"/>
<circle cx="545.30" cy="1364.10" r="6.40" fill="#219CB4"/>
<circle cx="537.10" cy="1373.00" r="6.40" fill="#219CB4"/>
<line x1="519.30" y1="1353.40" x2="555.00" y2="1353.40" stroke="#000" stroke-width="2.1" />
<path d="M536.00,1294.90L536.00,1289.40M536.00,1294.90L541.23,1293.20M536.00,1294.90L539.23,1299.35M536.00,1294.90L532.77,1299.35M536.00,1294.90L530.77,1293.20" stroke="#000" stroke-width="2.4" fill="none"/>
<text x="597.20" y="1247.30" font-size="34.5" text-anchor="start" >H</text>
<line x1="664.20" y1="1264.40" x2="664.20" y2="1539.90" stroke="#000" stroke-width="2.1" />
<line x1="655.70" y1="1265.40" x2="664.20" y2="1265.40" stroke="#000" stroke-width="2.1" />
<text x="653.90" y="1274.75" font-size="26.7" text-anchor="end" >5</text>
<line x1="655.70" y1="1320.30" x2="664.20" y2="1320.30" stroke="#000" stroke-width="2.1" />
<text x="653.90" y="1329.64" font-size="26.7" text-anchor="end" >4</text>
<line x1="655.70" y1="1375.10" x2="664.20" y2="1375.10" stroke="#000" stroke-width="2.1" />
<text x="653.90" y="1384.44" font-size="26.7" text-anchor="end" >3</text>
<line x1="655.70" y1="1430.00" x2="664.20" y2="1430.00" stroke="#000" stroke-width="2.1" />
<text x="653.90" y="1439.35" font-size="26.7" text-anchor="end" >2</text>
<line x1="655.70" y1="1484.50" x2="664.20" y2="1484.50" stroke="#000" stroke-width="2.1" />
<text x="653.90" y="1493.85" font-size="26.7" text-anchor="end" >1</text>
<line x1="655.70" y1="1538.90" x2="664.20" y2="1538.90" stroke="#000" stroke-width="2.1" />
<text x="653.90" y="1548.25" font-size="26.7" text-anchor="end" >0</text>
<line x1="663.20" y1="1538.90" x2="842.80" y2="1538.90" stroke="#000" stroke-width="2.1" />
<line x1="699.40" y1="1538.90" x2="699.40" y2="1546.50" stroke="#000" stroke-width="2.1" />
<line x1="753.50" y1="1538.90" x2="753.50" y2="1546.50" stroke="#000" stroke-width="2.1" />
<line x1="805.80" y1="1538.90" x2="805.80" y2="1546.50" stroke="#000" stroke-width="2.1" />
<text transform="translate(707.90,1570.90) rotate(-45)" x="0" y="0" font-size="26.3" text-anchor="end">Sham</text>
<text transform="translate(762.00,1570.90) rotate(-45)" x="0" y="0" font-size="26.3" text-anchor="end">3h SCI</text>
<text transform="translate(814.30,1570.90) rotate(-45)" x="0" y="0" font-size="26.3" text-anchor="end">24h SCI</text>
<text transform="translate(614.60,1399.00) rotate(-90)" x="0" y="9.31" font-size="26.6" text-anchor="middle">Lyso-CL/CL (%)</text>
<line x1="700.00" y1="1397.30" x2="700.00" y2="1409.30" stroke="#000" stroke-width="2.1" />
<line x1="692.20" y1="1397.30" x2="708.00" y2="1397.30" stroke="#000" stroke-width="2.1" />
<line x1="692.20" y1="1409.30" x2="708.00" y2="1409.30" stroke="#000" stroke-width="2.1" />
<circle cx="692.20" cy="1401.60" r="4.95" fill="none" stroke="#000" stroke-width="2.1"/>
<circle cx="710.10" cy="1388.90" r="4.95" fill="none" stroke="#000" stroke-width="2.1"/>
<circle cx="699.90" cy="1404.20" r="4.95" fill="none" stroke="#000" stroke-width="2.1"/>
<circle cx="699.90" cy="1419.00" r="4.95" fill="none" stroke="#000" stroke-width="2.1"/>
<line x1="683.30" y1="1403.70" x2="717.80" y2="1403.70" stroke="#000" stroke-width="2.1" />
<line x1="753.00" y1="1398.60" x2="753.00" y2="1424.10" stroke="#000" stroke-width="2.1" />
<line x1="744.50" y1="1398.60" x2="761.60" y2="1398.60" stroke="#000" stroke-width="2.1" />
<line x1="744.50" y1="1424.10" x2="761.60" y2="1424.10" stroke="#000" stroke-width="2.1" />
<circle cx="753.00" cy="1381.20" r="6.40" fill="#EC1480"/>
<circle cx="744.50" cy="1408.80" r="6.40" fill="#EC1480"/>
<circle cx="761.60" cy="1411.80" r="6.40" fill="#EC1480"/>
<circle cx="753.00" cy="1444.50" r="6.40" fill="#EC1480"/>
<line x1="735.60" y1="1411.30" x2="771.30" y2="1411.30" stroke="#000" stroke-width="2.1" />
<line x1="806.20" y1="1306.00" x2="806.20" y2="1331.50" stroke="#000" stroke-width="2.1" />
<line x1="798.10" y1="1306.00" x2="814.20" y2="1306.00" stroke="#000" stroke-width="2.1" />
<line x1="798.10" y1="1331.50" x2="814.20" y2="1331.50" stroke="#000" stroke-width="2.1" />
<circle cx="806.50" cy="1281.70" r="6.40" fill="#219CB4"/>
<circle cx="806.50" cy="1320.30" r="6.40" fill="#219CB4"/>
<circle cx="798.10" cy="1336.80" r="6.40" fill="#219CB4"/>
<circle cx="814.20" cy="1336.10" r="6.40" fill="#219CB4"/>
<line x1="789.20" y1="1318.70" x2="824.40" y2="1318.70" stroke="#000" stroke-width="2.1" />
<path d="M799.60,1264.30L799.60,1258.80M799.60,1264.30L804.83,1262.60M799.60,1264.30L802.83,1268.75M799.60,1264.30L796.37,1268.75M799.60,1264.30L794.37,1262.60M813.60,1264.30L813.60,1258.80M813.60,1264.30L818.83,1262.60M813.60,1264.30L816.83,1268.75M813.60,1264.30L810.37,1268.75M813.60,1264.30L808.37,1262.60" stroke="#000" stroke-width="2.4" fill="none"/>
<text x="868.30" y="1247.30" font-size="34.5" text-anchor="start" >I</text>
<line x1="973.10" y1="1264.40" x2="973.10" y2="1540.00" stroke="#000" stroke-width="2.1" />
<line x1="964.60" y1="1265.40" x2="973.10" y2="1265.40" stroke="#000" stroke-width="2.1" />
<text x="962.80" y="1274.75" font-size="26.7" text-anchor="end" >0.25</text>
<line x1="964.60" y1="1321.10" x2="973.10" y2="1321.10" stroke="#000" stroke-width="2.1" />
<text x="962.80" y="1330.44" font-size="26.7" text-anchor="end" >0.20</text>
<line x1="964.60" y1="1375.50" x2="973.10" y2="1375.50" stroke="#000" stroke-width="2.1" />
<text x="962.80" y="1384.85" font-size="26.7" text-anchor="end" >0.15</text>
<line x1="964.60" y1="1430.10" x2="973.10" y2="1430.10" stroke="#000" stroke-width="2.1" />
<text x="962.80" y="1439.44" font-size="26.7" text-anchor="end" >0.10</text>
<line x1="964.60" y1="1484.90" x2="973.10" y2="1484.90" stroke="#000" stroke-width="2.1" />
<text x="962.80" y="1494.25" font-size="26.7" text-anchor="end" >0.05</text>
<line x1="964.60" y1="1539.00" x2="973.10" y2="1539.00" stroke="#000" stroke-width="2.1" />
<text x="962.80" y="1548.35" font-size="26.7" text-anchor="end" >0.00</text>
<line x1="972.10" y1="1539.00" x2="1151.90" y2="1539.00" stroke="#000" stroke-width="2.1" />
<text transform="translate(1017.40,1571.00) rotate(-45)" x="0" y="0" font-size="26.3" text-anchor="end">Sham</text>
<text transform="translate(1070.50,1571.00) rotate(-45)" x="0" y="0" font-size="26.3" text-anchor="end">3h SCI</text>
<text transform="translate(1124.10,1571.00) rotate(-45)" x="0" y="0" font-size="26.3" text-anchor="end">24h SCI</text>
<text transform="translate(888.80,1399.00) rotate(-90)" x="0" y="9.06" font-size="25.9" text-anchor="middle">4-HNE (nmol/mg Pr)</text>
<line x1="1009.00" y1="1396.80" x2="1009.00" y2="1418.60" stroke="#000" stroke-width="2.1" />
<line x1="1000.60" y1="1396.80" x2="1017.70" y2="1396.80" stroke="#000" stroke-width="2.1" />
<line x1="1000.60" y1="1418.60" x2="1017.70" y2="1418.60" stroke="#000" stroke-width="2.1" />
<circle cx="1008.90" cy="1369.90" r="4.95" fill="none" stroke="#000" stroke-width="2.1"/>
<circle cx="999.30" cy="1418.60" r="4.95" fill="none" stroke="#000" stroke-width="2.1"/>
<circle cx="1017.10" cy="1418.60" r="4.95" fill="none" stroke="#000" stroke-width="2.1"/>
<circle cx="1008.90" cy="1434.50" r="4.95" fill="none" stroke="#000" stroke-width="2.1"/>
<line x1="991.00" y1="1411.10" x2="1026.80" y2="1411.10" stroke="#000" stroke-width="2.1" />
<line x1="1062.20" y1="1308.60" x2="1062.20" y2="1334.10" stroke="#000" stroke-width="2.1" />
<line x1="1053.70" y1="1308.60" x2="1070.80" y2="1308.60" stroke="#000" stroke-width="2.1" />
<line x1="1053.70" y1="1334.10" x2="1070.80" y2="1334.10" stroke="#000" stroke-width="2.1" />
<circle cx="1062.00" cy="1290.10" r="6.40" fill="#EC1480"/>
<circle cx="1062.00" cy="1313.00" r="6.40" fill="#EC1480"/>
<circle cx="1071.30" cy="1336.30" r="6.40" fill="#EC1480"/>
<circle cx="1053.70" cy="1347.30" r="6.40" fill="#EC1480"/>
<line x1="1044.60" y1="1321.80" x2="1080.40" y2="1321.80" stroke="#000" stroke-width="2.1" />
<path d="M1053.60,1275.00L1053.60,1269.50M1053.60,1275.00L1058.83,1273.30M1053.60,1275.00L1056.83,1279.45M1053.60,1275.00L1050.37,1279.45M1053.60,1275.00L1048.37,1273.30M1067.60,1275.00L1067.60,1269.50M1067.60,1275.00L1072.83,1273.30M1067.60,1275.00L1070.83,1279.45M1067.60,1275.00L1064.37,1279.45M1067.60,1275.00L1062.37,1273.30" stroke="#000" stroke-width="2.4" fill="none"/>
<line x1="1115.70" y1="1304.40" x2="1115.70" y2="1324.00" stroke="#219CB4" stroke-width="2.1" />
<line x1="1107.00" y1="1304.40" x2="1124.40" y2="1304.40" stroke="#219CB4" stroke-width="2.1" />
<line x1="1107.00" y1="1324.00" x2="1124.40" y2="1324.00" stroke="#219CB4" stroke-width="2.1" />
<circle cx="1115.60" cy="1287.40" r="6.40" fill="#219CB4"/>
<circle cx="1105.10" cy="1313.50" r="6.40" fill="#219CB4"/>
<circle cx="1116.10" cy="1328.60" r="6.40" fill="#219CB4"/>
<circle cx="1125.80" cy="1325.90" r="6.40" fill="#219CB4"/>
<line x1="1097.70" y1="1314.30" x2="1133.50" y2="1314.30" stroke="#000" stroke-width="2.1" />
<path d="M1108.60,1273.60L1108.60,1268.10M1108.60,1273.60L1113.83,1271.90M1108.60,1273.60L1111.83,1278.05M1108.60,1273.60L1105.37,1278.05M1108.60,1273.60L1103.37,1271.90M1122.60,1273.60L1122.60,1268.10M1122.60,1273.60L1127.83,1271.90M1122.60,1273.60L1125.83,1278.05M1122.60,1273.60L1119.37,1278.05M1122.60,1273.60L1117.37,1271.90" stroke="#000" stroke-width="2.4" fill="none"/>
</svg></body></html>
